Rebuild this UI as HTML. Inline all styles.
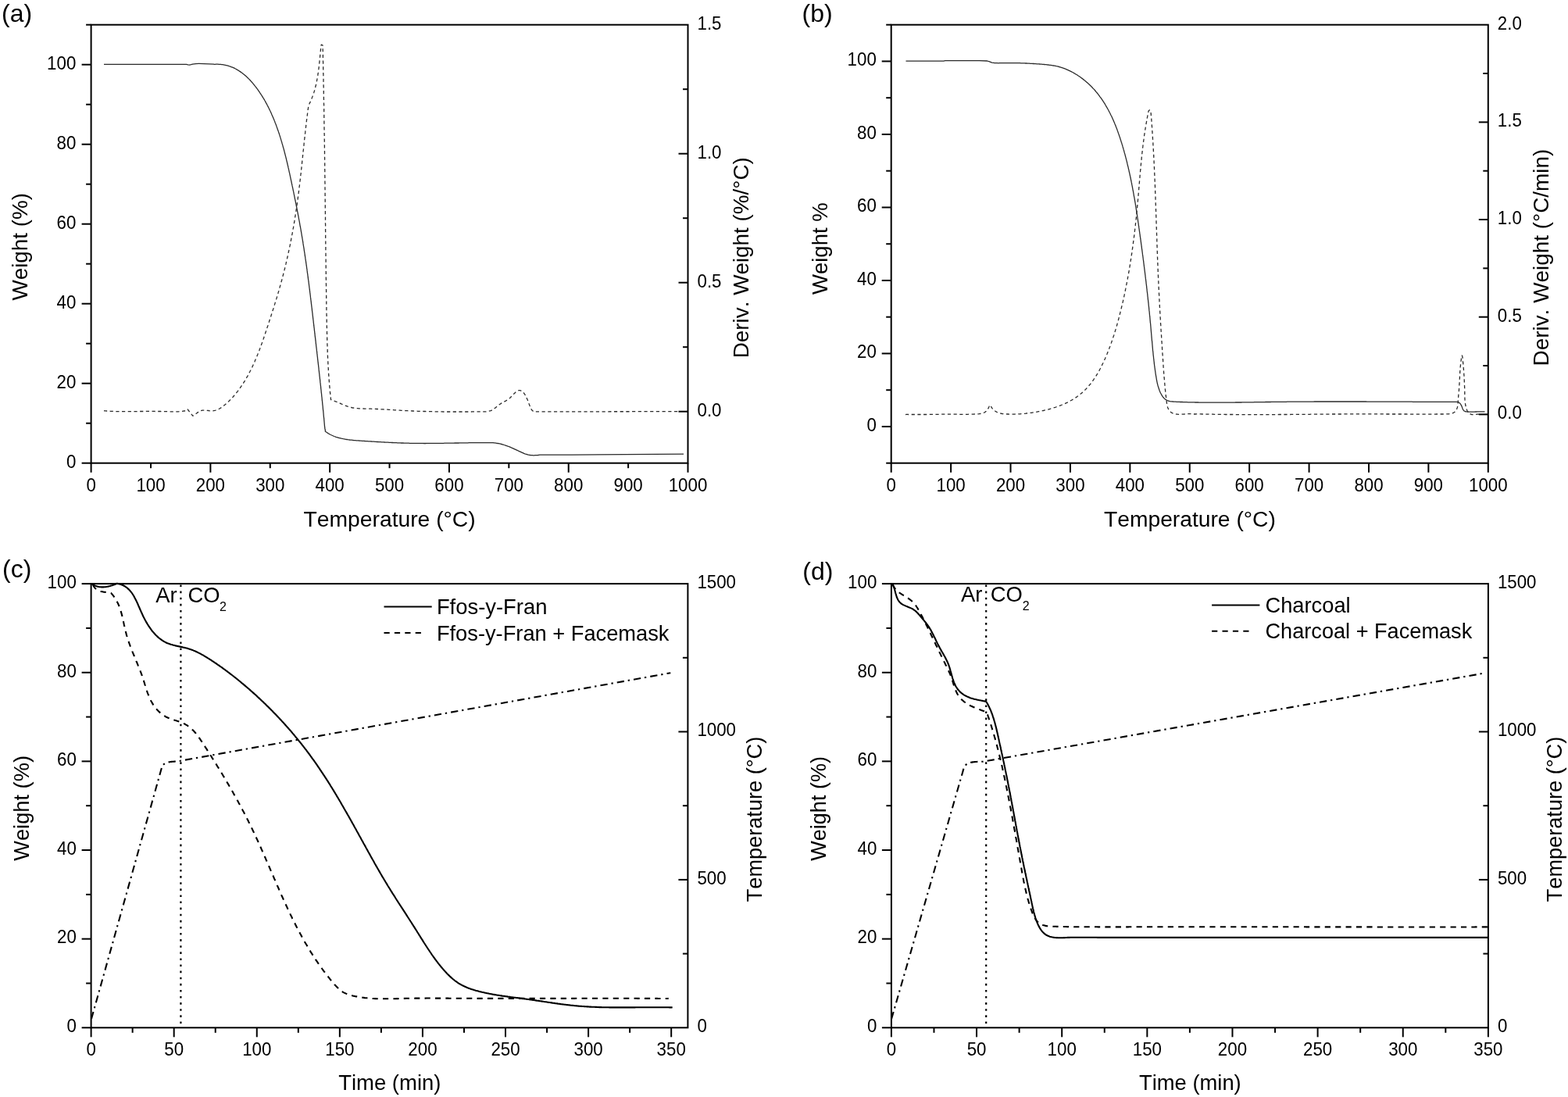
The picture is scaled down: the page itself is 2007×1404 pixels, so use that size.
<!DOCTYPE html>
<html><head><meta charset="utf-8"><title>TGA figure</title>
<style>html,body{margin:0;padding:0;background:#fff;}svg{display:block;}</style>
</head><body>
<svg xmlns="http://www.w3.org/2000/svg" width="2007" height="1404" viewBox="0 0 2007 1404" font-family="'Liberation Sans', Arial, sans-serif" fill="#000" style="font-kerning:none">
<rect width="2007" height="1404" fill="#fff"/>
<g stroke="#000" stroke-linecap="square" fill="none">
<rect x="116.6" y="31.7" width="763.9" height="561" stroke-width="2" stroke-linecap="butt"/>
<line x1="116.6" y1="592.7" x2="116.6" y2="604.7" stroke-width="2" stroke-linecap="butt"/>
<line x1="269.38" y1="592.7" x2="269.38" y2="604.7" stroke-width="2" stroke-linecap="butt"/>
<line x1="422.16" y1="592.7" x2="422.16" y2="604.7" stroke-width="2" stroke-linecap="butt"/>
<line x1="574.94" y1="592.7" x2="574.94" y2="604.7" stroke-width="2" stroke-linecap="butt"/>
<line x1="727.72" y1="592.7" x2="727.72" y2="604.7" stroke-width="2" stroke-linecap="butt"/>
<line x1="880.5" y1="592.7" x2="880.5" y2="604.7" stroke-width="2" stroke-linecap="butt"/>
<line x1="192.99" y1="592.7" x2="192.99" y2="599.2" stroke-width="2" stroke-linecap="butt"/>
<line x1="345.77" y1="592.7" x2="345.77" y2="599.2" stroke-width="2" stroke-linecap="butt"/>
<line x1="498.55" y1="592.7" x2="498.55" y2="599.2" stroke-width="2" stroke-linecap="butt"/>
<line x1="651.33" y1="592.7" x2="651.33" y2="599.2" stroke-width="2" stroke-linecap="butt"/>
<line x1="804.11" y1="592.7" x2="804.11" y2="599.2" stroke-width="2" stroke-linecap="butt"/>
<line x1="104.6" y1="592.7" x2="116.6" y2="592.7" stroke-width="2" stroke-linecap="butt"/>
<line x1="104.6" y1="490.7" x2="116.6" y2="490.7" stroke-width="2" stroke-linecap="butt"/>
<line x1="104.6" y1="388.7" x2="116.6" y2="388.7" stroke-width="2" stroke-linecap="butt"/>
<line x1="104.6" y1="286.7" x2="116.6" y2="286.7" stroke-width="2" stroke-linecap="butt"/>
<line x1="104.6" y1="184.7" x2="116.6" y2="184.7" stroke-width="2" stroke-linecap="butt"/>
<line x1="104.6" y1="82.7" x2="116.6" y2="82.7" stroke-width="2" stroke-linecap="butt"/>
<line x1="110.1" y1="541.7" x2="116.6" y2="541.7" stroke-width="2" stroke-linecap="butt"/>
<line x1="110.1" y1="439.7" x2="116.6" y2="439.7" stroke-width="2" stroke-linecap="butt"/>
<line x1="110.1" y1="337.7" x2="116.6" y2="337.7" stroke-width="2" stroke-linecap="butt"/>
<line x1="110.1" y1="235.7" x2="116.6" y2="235.7" stroke-width="2" stroke-linecap="butt"/>
<line x1="110.1" y1="133.7" x2="116.6" y2="133.7" stroke-width="2" stroke-linecap="butt"/>
<line x1="110.1" y1="31.7" x2="116.6" y2="31.7" stroke-width="2" stroke-linecap="butt"/>
<line x1="868.5" y1="526.7" x2="880.5" y2="526.7" stroke-width="2" stroke-linecap="butt"/>
<line x1="868.5" y1="361.7" x2="880.5" y2="361.7" stroke-width="2" stroke-linecap="butt"/>
<line x1="868.5" y1="196.7" x2="880.5" y2="196.7" stroke-width="2" stroke-linecap="butt"/>
<line x1="874" y1="444.2" x2="880.5" y2="444.2" stroke-width="2" stroke-linecap="butt"/>
<line x1="874" y1="279.2" x2="880.5" y2="279.2" stroke-width="2" stroke-linecap="butt"/>
<line x1="874" y1="114.2" x2="880.5" y2="114.2" stroke-width="2" stroke-linecap="butt"/>
</g>
<text transform="translate(116.6,629.3) scale(1,1.1)" font-size="22.3" text-anchor="middle">0</text>
<text transform="translate(192.99,629.3) scale(1,1.1)" font-size="22.3" text-anchor="middle">100</text>
<text transform="translate(269.38,629.3) scale(1,1.1)" font-size="22.3" text-anchor="middle">200</text>
<text transform="translate(345.77,629.3) scale(1,1.1)" font-size="22.3" text-anchor="middle">300</text>
<text transform="translate(422.16,629.3) scale(1,1.1)" font-size="22.3" text-anchor="middle">400</text>
<text transform="translate(498.55,629.3) scale(1,1.1)" font-size="22.3" text-anchor="middle">500</text>
<text transform="translate(574.94,629.3) scale(1,1.1)" font-size="22.3" text-anchor="middle">600</text>
<text transform="translate(651.33,629.3) scale(1,1.1)" font-size="22.3" text-anchor="middle">700</text>
<text transform="translate(727.72,629.3) scale(1,1.1)" font-size="22.3" text-anchor="middle">800</text>
<text transform="translate(804.11,629.3) scale(1,1.1)" font-size="22.3" text-anchor="middle">900</text>
<text transform="translate(880.5,629.3) scale(1,1.1)" font-size="22.3" text-anchor="middle">1000</text>
<text transform="translate(97.3,598.5) scale(1,1.1)" font-size="22.3" text-anchor="end">0</text>
<text transform="translate(97.3,496.5) scale(1,1.1)" font-size="22.3" text-anchor="end">20</text>
<text transform="translate(97.3,394.5) scale(1,1.1)" font-size="22.3" text-anchor="end">40</text>
<text transform="translate(97.3,292.5) scale(1,1.1)" font-size="22.3" text-anchor="end">60</text>
<text transform="translate(97.3,190.5) scale(1,1.1)" font-size="22.3" text-anchor="end">80</text>
<text transform="translate(97.3,88.5) scale(1,1.1)" font-size="22.3" text-anchor="end">100</text>
<text transform="translate(892.5,532.5) scale(1,1.1)" font-size="22.3" text-anchor="start">0.0</text>
<text transform="translate(892.5,367.5) scale(1,1.1)" font-size="22.3" text-anchor="start">0.5</text>
<text transform="translate(892.5,202.5) scale(1,1.1)" font-size="22.3" text-anchor="start">1.0</text>
<text transform="translate(892.5,37.5) scale(1,1.1)" font-size="22.3" text-anchor="start">1.5</text>
<text x="388.6" y="674" font-size="28.26" text-anchor="start">Temperature (°C)</text>
<text transform="translate(34.5,384.6) rotate(-90)" font-size="27.85">Weight (%)</text>
<text transform="translate(958,458.3) rotate(-90)" font-size="27.85">Deriv. Weight (%/°C)</text>
<text x="2" y="27.6" font-size="32" text-anchor="start">(a)</text>
<path d="M133.0,82.4 238.6,82.4 240.6,82.9 242.6,83.1 244.6,82.7 246.6,82.1 250.5,81.6 254.5,81.4 261.0,81.6 267.5,81.9 273.5,82.2 L273.5,82.2 274.1,82.3 275.3,82.3 276.5,82.2 277.7,82.2 278.9,82.2 280.1,82.3 281.3,82.3 282.5,82.4 283.7,82.6 284.9,82.7 286.1,82.9 287.2,83.1 288.4,83.3 289.6,83.6 290.8,83.9 291.9,84.2 293.1,84.6 294.2,84.9 295.3,85.4 296.5,85.8 297.6,86.2 298.7,86.7 299.8,87.2 300.8,87.7 301.9,88.3 303.0,88.9 304.0,89.5 305.0,90.1 306.0,90.7 307.0,91.4 308.0,92.1 309.0,92.8 310.0,93.5 310.9,94.2 311.9,95.0 312.8,95.7 313.7,96.5 314.6,97.3 315.5,98.1 316.4,98.9 317.2,99.7 318.1,100.6 318.9,101.4 319.8,102.3 320.6,103.2 321.4,104.1 322.2,105.0 323.0,105.9 323.8,106.8 324.5,107.7 325.3,108.6 326.0,109.6 326.8,110.5 327.5,111.5 328.2,112.4 329.0,113.4 329.7,114.3 330.4,115.3 331.1,116.3 331.8,117.3 332.4,118.3 333.1,119.3 333.8,120.3 334.4,121.3 335.1,122.3 335.7,123.3 336.3,124.3 336.9,125.4 337.6,126.4 338.2,127.4 338.8,128.5 339.4,129.5 340.0,130.6 340.5,131.6 341.1,132.7 341.7,133.7 342.2,134.8 342.8,135.8 343.3,136.9 343.9,138.0 344.4,139.1 344.9,140.1 345.4,141.2 346.0,142.3 346.5,143.4 347.0,144.5 347.5,145.6 347.9,146.7 348.4,147.8 348.9,148.9 349.4,150.0 349.8,151.1 350.3,152.2 350.8,153.3 351.2,154.4 351.7,155.5 352.1,156.7 352.5,157.8 353.0,158.9 353.4,160.0 353.8,161.1 354.2,162.3 354.6,163.4 355.0,164.5 355.4,165.7 355.8,166.8 356.2,167.9 356.6,169.1 357.0,170.2 357.4,171.3 357.7,172.5 358.1,173.6 358.5,174.8 358.8,175.9 359.2,177.1 359.5,178.2 359.9,179.4 360.2,180.5 360.6,181.7 360.9,182.8 361.2,184.0 361.6,185.1 361.9,186.3 362.2,187.4 362.5,188.6 362.9,189.7 363.2,190.9 363.5,192.0 363.8,193.2 364.1,194.4 364.4,195.5 364.7,196.7 365.0,197.9 365.3,199.0 365.6,200.2 365.9,201.3 366.2,202.5 366.5,203.7 366.7,204.8 367.0,206.0 367.3,207.2 367.6,208.3 367.8,209.5 368.1,210.7 368.4,211.9 368.7,213.0 368.9,214.2 369.2,215.4 369.5,216.5 369.7,217.7 370.0,218.9 370.2,220.1 370.5,221.2 370.8,222.4 371.0,223.6 371.3,224.7 371.5,225.9 371.8,227.1 372.0,228.3 372.3,229.4 372.5,230.6 372.8,231.8 373.0,233.0 373.3,234.1 373.5,235.3 373.8,236.5 374.0,237.7 374.3,238.8 374.5,240.0 374.8,241.2 375.0,242.3 375.3,243.5 375.5,244.7 375.8,245.9 376.0,247.0 376.2,248.2 376.5,249.4 376.7,250.6 377.0,251.8 377.2,252.9 377.4,254.1 377.7,255.3 377.9,256.5 378.2,257.6 378.4,258.8 378.6,260.0 378.9,261.2 379.1,262.3 379.3,263.5 379.6,264.7 379.8,265.9 380.0,267.1 380.3,268.2 380.5,269.4 380.7,270.6 381.0,271.8 381.2,272.9 381.4,274.1 381.6,275.3 381.9,276.5 382.1,277.7 382.3,278.8 382.5,280.0 382.7,281.2 383.0,282.4 383.2,283.6 383.4,284.7 383.6,285.9 383.8,287.1 384.0,288.3 384.2,289.5 384.5,290.6 384.7,291.8 384.9,293.0 385.1,294.2 385.3,295.4 385.5,296.6 385.7,297.7 385.9,298.9 386.1,300.1 386.3,301.3 386.5,302.5 386.7,303.7 386.9,304.8 387.1,306.0 387.3,307.2 387.5,308.4 387.7,309.6 387.9,310.8 388.0,311.9 388.2,313.1 388.4,314.3 388.6,315.5 388.8,316.7 389.0,317.9 389.2,319.1 389.3,320.2 389.5,321.4 389.7,322.6 389.9,323.8 390.1,325.0 390.2,326.2 390.4,327.4 390.6,328.6 390.8,329.7 390.9,330.9 391.1,332.1 391.3,333.3 391.5,334.5 391.6,335.7 391.8,336.9 392.0,338.1 392.1,339.2 392.3,340.4 392.5,341.6 392.6,342.8 392.8,344.0 393.0,345.2 393.1,346.4 393.3,347.6 393.4,348.8 393.6,350.0 393.8,351.1 393.9,352.3 394.1,353.5 394.2,354.7 394.4,355.9 394.5,357.1 394.7,358.3 394.9,359.5 395.0,360.7 395.2,361.9 395.3,363.0 395.5,364.2 395.6,365.4 395.8,366.6 395.9,367.8 396.1,369.0 396.2,370.2 396.4,371.4 396.5,372.6 396.7,373.8 396.8,374.9 397.0,376.1 397.1,377.3 397.3,378.5 397.4,379.7 397.5,380.9 397.7,382.1 397.8,383.3 398.0,384.5 398.1,385.7 398.3,386.9 398.4,388.1 398.5,389.2 398.7,390.4 398.8,391.6 399.0,392.8 399.1,394.0 399.3,395.2 399.4,396.4 399.5,397.6 399.7,398.8 399.8,400.0 400.0,401.2 400.1,402.4 400.2,403.6 400.4,404.7 400.5,405.9 400.6,407.1 400.8,408.3 400.9,409.5 401.1,410.7 401.2,411.9 401.3,413.1 401.5,414.3 401.6,415.5 401.7,416.7 401.9,417.9 402.0,419.1 402.2,420.2 402.3,421.4 402.4,422.6 402.6,423.8 402.7,425.0 402.8,426.2 403.0,427.4 403.1,428.6 403.2,429.8 403.4,431.0 403.5,432.2 403.7,433.4 403.8,434.6 403.9,435.7 404.1,436.9 404.2,438.1 404.3,439.3 404.5,440.5 404.6,441.7 404.7,442.9 404.9,444.1 405.0,445.3 405.2,446.5 405.3,447.7 405.4,448.9 405.6,450.1 405.7,451.2 405.8,452.4 406.0,453.6 406.1,454.8 406.2,456.0 406.4,457.2 406.5,458.4 406.6,459.6 406.8,460.8 406.9,462.0 407.0,463.2 407.2,464.4 407.3,465.6 407.5,466.8 407.6,467.9 407.7,469.1 407.9,470.3 408.0,471.5 408.1,472.7 408.2,473.9 408.4,475.1 408.5,476.3 408.6,477.5 408.8,478.7 408.9,479.9 409.0,481.1 409.2,482.3 409.3,483.5 409.4,484.6 409.6,485.8 409.7,487.0 409.8,488.2 409.9,489.4 410.1,490.6 410.2,491.8 410.3,493.0 410.5,494.2 410.6,495.4 410.7,496.6 410.8,497.8 411.0,499.0 411.1,500.2 411.2,501.4 411.3,502.6 411.5,503.7 411.6,504.9 411.7,506.1 411.8,507.3 412.0,508.5 412.1,509.7 412.2,510.9 412.3,512.1 412.5,513.3 412.6,514.5 412.7,515.7 412.8,516.9 412.9,518.1 413.1,519.3 413.2,520.5 413.3,521.7 413.4,522.8 413.5,524.0 413.6,525.2 413.8,526.4 413.9,527.6 414.0,528.8 414.1,530.0 414.2,531.2 414.3,532.4 414.4,533.6 414.6,534.8 414.7,536.0 414.8,537.2 414.9,538.4 415.0,539.6 415.1,540.8 415.2,542.0 415.3,543.2 415.4,544.4 415.5,545.6 415.7,546.7 415.8,547.9 415.9,549.1 416.4,550.3 L416.4,550.3 416.3,552.0 417.3,552.8 418.3,553.5 419.3,554.1 420.3,554.8 421.3,555.4 422.4,556.0 423.4,556.5 424.5,557.0 425.6,557.5 426.7,558.0 427.8,558.5 429.0,558.9 430.1,559.3 431.2,559.6 432.4,560.0 433.5,560.3 434.7,560.6 435.9,560.9 437.0,561.2 438.2,561.4 439.4,561.7 440.6,561.9 441.7,562.1 442.9,562.3 444.1,562.5 445.3,562.7 446.5,562.8 447.7,563.0 448.9,563.1 450.1,563.2 451.3,563.3 452.5,563.5 453.7,563.6 454.9,563.7 456.1,563.8 457.3,563.9 458.5,563.9 459.7,564.0 460.9,564.1 462.1,564.2 463.3,564.3 464.5,564.3 465.7,564.4 466.8,564.5 468.0,564.6 469.2,564.6 470.4,564.7 471.6,564.8 472.8,564.9 474.0,564.9 475.2,565.0 476.4,565.1 477.6,565.2 478.8,565.2 480.0,565.3 481.2,565.4 482.4,565.5 483.6,565.5 484.8,565.6 486.0,565.7 487.2,565.7 488.4,565.8 489.6,565.9 490.8,565.9 492.0,566.0 493.2,566.1 494.4,566.1 495.6,566.2 496.8,566.2 498.0,566.3 499.2,566.4 500.4,566.4 501.6,566.5 502.8,566.5 504.0,566.6 505.2,566.6 506.4,566.7 507.6,566.7 508.8,566.8 510.0,566.8 511.2,566.9 512.4,566.9 513.6,567.0 514.8,567.0 516.0,567.0 517.2,567.1 518.4,567.1 519.6,567.2 520.8,567.2 522.0,567.2 523.2,567.2 524.4,567.3 525.6,567.3 526.8,567.3 528.0,567.3 529.2,567.3 530.4,567.4 531.6,567.4 532.9,567.4 534.1,567.4 535.3,567.4 536.5,567.4 537.7,567.4 538.9,567.4 540.1,567.4 541.3,567.4 542.5,567.5 543.7,567.5 544.9,567.5 546.1,567.4 547.3,567.4 548.5,567.4 549.7,567.4 550.9,567.4 552.1,567.4 553.3,567.4 554.5,567.4 555.7,567.4 556.9,567.4 558.1,567.4 559.3,567.4 560.5,567.4 561.7,567.3 562.9,567.3 564.1,567.3 565.3,567.3 566.5,567.3 567.7,567.3 568.9,567.2 570.1,567.2 571.3,567.2 572.5,567.2 573.7,567.2 574.9,567.2 576.1,567.1 577.3,567.1 578.5,567.1 579.7,567.1 580.9,567.1 582.1,567.0 583.3,567.0 584.5,567.0 585.7,567.0 586.9,567.0 588.1,566.9 589.3,566.9 590.5,566.9 591.7,566.9 592.9,566.9 594.1,566.8 595.3,566.8 596.5,566.8 597.7,566.8 598.9,566.8 600.1,566.7 601.3,566.7 602.5,566.7 603.7,566.7 604.9,566.7 606.1,566.7 607.3,566.7 608.5,566.6 609.7,566.6 610.9,566.6 612.1,566.6 613.3,566.6 614.5,566.6 615.7,566.6 616.9,566.6 618.1,566.6 619.3,566.6 620.5,566.6 621.7,566.6 622.9,566.6 624.1,566.6 625.3,566.6 626.5,566.6 627.8,566.6 629.0,566.6 630.2,566.6 631.4,566.6 L631.4,566.6 632.5,566.8 633.7,566.9 634.9,567.1 636.1,567.3 637.3,567.5 638.5,567.7 639.6,567.9 640.8,568.2 642.0,568.5 643.1,568.8 644.3,569.1 645.4,569.5 646.6,569.9 647.7,570.3 648.8,570.7 650.0,571.1 651.1,571.5 652.2,571.9 653.3,572.4 654.4,572.9 655.5,573.3 656.6,573.8 657.7,574.3 658.8,574.8 659.9,575.3 661.0,575.8 662.1,576.3 663.2,576.9 664.2,577.4 665.3,577.9 666.4,578.4 667.5,578.9 668.6,579.4 669.7,579.9 670.8,580.4 671.9,580.8 673.1,581.2 674.2,581.5 675.4,581.8 676.5,582.1 677.7,582.3 678.9,582.5 680.1,582.6 681.3,582.7 682.5,582.8 683.7,582.8 684.9,582.7 686.1,582.7 687.3,582.6 688.5,582.5 689.7,582.3 690.9,582.2 692.0,582.2 L692.0,582.2 731.5,582.2 875.0,581.1" fill="none" stroke="#2a2a2a" stroke-width="1.3" stroke-linejoin="round"/>
<path d="M133.0,525.6 134.2,525.9 135.4,525.9 136.6,526.0 137.8,526.1 139.0,526.2 140.2,526.2 141.4,526.3 142.6,526.4 143.8,526.4 145.0,526.4 146.3,526.5 147.5,526.5 148.7,526.6 149.9,526.6 151.1,526.6 152.3,526.6 153.5,526.6 154.7,526.7 155.9,526.7 157.1,526.7 158.3,526.7 159.6,526.7 160.8,526.7 162.0,526.7 163.2,526.7 164.4,526.7 165.6,526.7 166.8,526.7 168.0,526.6 169.2,526.6 170.4,526.6 171.7,526.6 172.9,526.6 174.1,526.6 175.3,526.6 176.5,526.5 177.7,526.5 178.9,526.5 180.1,526.5 181.3,526.5 182.5,526.5 183.7,526.5 185.0,526.4 186.2,526.4 187.4,526.4 188.6,526.4 189.8,526.4 191.0,526.4 192.2,526.4 193.4,526.4 194.6,526.4 195.8,526.4 197.1,526.4 198.3,526.5 199.5,526.5 200.7,526.5 201.9,526.5 203.1,526.5 204.3,526.5 205.5,526.5 206.7,526.6 207.9,526.6 209.1,526.6 210.4,526.6 211.6,526.6 212.8,526.7 214.0,526.7 215.2,526.7 216.4,526.7 217.6,526.8 218.8,526.8 220.0,526.8 221.2,526.8 222.4,526.8 223.7,526.8 224.9,526.8 226.1,526.8 227.3,526.8 228.5,526.8 229.7,526.7 230.9,526.6 232.1,526.5 233.3,526.4 234.5,526.2 235.7,526.0 236.9,525.8 238.1,525.5 239.2,525.2 240.2,524.0 L240.2,524.0 243.8,528.7 246.9,532.3 L246.9,532.3 248.0,531.6 249.0,531.0 250.0,530.3 250.9,529.6 251.9,528.8 252.8,528.1 253.8,527.4 254.8,526.8 255.9,526.2 257.0,525.7 258.1,525.4 259.3,525.2 260.5,525.1 261.7,525.1 262.9,525.1 264.1,525.2 265.3,525.4 266.5,525.5 267.6,525.7 268.8,525.8 270.0,525.9 271.2,525.9 272.4,525.8 273.6,525.6 274.8,525.4 276.0,525.1 277.1,524.7 278.2,524.3 279.3,523.8 280.4,523.3 281.4,522.7 282.5,522.1 283.5,521.4 284.5,520.7 285.4,520.0 286.4,519.3 287.3,518.5 288.2,517.8 289.1,517.0 290.0,516.2 290.9,515.4 291.8,514.6 292.7,513.7 293.5,512.9 294.4,512.1 295.2,511.2 296.1,510.3 296.9,509.5 297.7,508.6 298.5,507.7 299.3,506.8 300.1,505.9 300.9,505.0 301.6,504.0 302.4,503.1 303.1,502.2 303.9,501.2 304.6,500.3 305.3,499.3 306.0,498.3 306.7,497.4 307.4,496.4 308.1,495.4 308.8,494.4 309.5,493.4 310.1,492.4 310.8,491.4 311.5,490.4 312.1,489.4 312.7,488.4 313.4,487.4 314.0,486.3 314.6,485.3 315.2,484.3 315.8,483.2 316.4,482.2 317.0,481.1 317.5,480.1 318.1,479.0 318.7,478.0 319.2,476.9 319.8,475.8 320.3,474.8 320.9,473.7 321.4,472.6 321.9,471.6 322.5,470.5 323.0,469.4 323.5,468.3 324.0,467.2 324.5,466.1 325.0,465.0 325.5,463.9 326.0,462.8 326.4,461.7 326.9,460.6 327.4,459.5 327.9,458.4 328.3,457.3 328.8,456.2 329.2,455.1 329.7,454.0 330.1,452.9 330.6,451.8 331.0,450.6 331.4,449.5 331.9,448.4 332.3,447.3 332.7,446.2 333.1,445.0 333.5,443.9 334.0,442.8 334.4,441.6 334.8,440.5 335.2,439.4 335.6,438.3 336.0,437.1 336.4,436.0 336.8,434.9 337.2,433.7 337.6,432.6 337.9,431.5 338.3,430.3 338.7,429.2 339.1,428.0 339.5,426.9 339.9,425.8 340.2,424.6 340.6,423.5 341.0,422.4 341.4,421.2 341.8,420.1 342.1,418.9 342.5,417.8 342.9,416.7 343.2,415.5 343.6,414.4 344.0,413.2 344.4,412.1 344.7,411.0 345.1,409.8 345.5,408.7 345.9,407.5 346.2,406.4 346.6,405.2 347.0,404.1 347.3,403.0 347.7,401.8 348.1,400.7 348.4,399.5 348.8,398.4 349.2,397.3 349.5,396.1 349.9,395.0 350.3,393.8 350.6,392.7 351.0,391.5 351.3,390.4 351.7,389.2 352.0,388.1 352.4,386.9 352.8,385.8 353.1,384.7 353.5,383.5 353.8,382.4 354.2,381.2 354.5,380.1 354.8,378.9 355.2,377.8 355.5,376.6 355.9,375.5 356.2,374.3 356.6,373.2 356.9,372.0 357.2,370.9 357.6,369.7 357.9,368.5 358.2,367.4 358.5,366.2 358.9,365.1 359.2,363.9 359.5,362.8 359.8,361.6 360.1,360.5 360.5,359.3 360.8,358.1 361.1,357.0 361.4,355.8 361.7,354.7 362.0,353.5 362.3,352.3 362.6,351.2 362.9,350.0 363.2,348.9 363.5,347.7 363.8,346.5 364.1,345.4 364.4,344.2 364.7,343.0 364.9,341.9 365.2,340.7 365.5,339.5 365.8,338.4 366.1,337.2 366.3,336.0 366.6,334.9 366.9,333.7 367.2,332.5 367.4,331.4 367.7,330.2 368.0,329.0 368.2,327.8 368.5,326.7 368.7,325.5 369.0,324.3 369.2,323.2 369.5,322.0 369.7,320.8 370.0,319.6 370.2,318.5 370.5,317.3 370.7,316.1 371.0,314.9 371.2,313.8 371.5,312.6 371.7,311.4 371.9,310.2 372.2,309.1 372.4,307.9 372.6,306.7 372.8,305.5 373.1,304.3 373.3,303.2 373.5,302.0 373.7,300.8 374.0,299.6 374.2,298.4 374.4,297.3 374.6,296.1 374.8,294.9 375.0,293.7 375.2,292.5 375.5,291.4 375.7,290.2 375.9,289.0 376.1,287.8 376.3,286.6 376.5,285.4 376.7,284.3 376.9,283.1 377.1,281.9 377.3,280.7 377.5,279.5 377.6,278.3 377.8,277.2 378.0,276.0 378.2,274.8 378.4,273.6 378.6,272.4 378.8,271.2 378.9,270.0 379.1,268.9 379.3,267.7 379.5,266.5 379.6,265.3 379.8,264.1 380.0,262.9 380.2,261.7 380.3,260.5 380.5,259.4 380.7,258.2 380.8,257.0 381.0,255.8 381.2,254.6 381.3,253.4 381.5,252.2 381.6,251.0 381.8,249.8 381.9,248.6 382.1,247.5 382.3,246.3 382.4,245.1 382.6,243.9 382.7,242.7 382.8,241.5 383.0,240.3 383.1,239.1 383.3,237.9 383.4,236.7 383.6,235.5 383.7,234.4 383.9,233.2 384.0,232.0 384.1,230.8 384.3,229.6 384.4,228.4 384.5,227.2 384.7,226.0 384.8,224.8 384.9,223.6 385.1,222.4 385.2,221.2 385.3,220.0 385.5,218.9 385.6,217.7 385.7,216.5 385.9,215.3 386.0,214.1 386.1,212.9 386.2,211.7 386.4,210.5 386.5,209.3 386.6,208.1 386.7,206.9 386.9,205.7 387.0,204.5 387.1,203.3 387.2,202.2 387.4,201.0 387.5,199.8 387.6,198.6 387.7,197.4 387.9,196.2 388.0,195.0 388.1,193.8 388.2,192.6 388.4,191.4 388.5,190.2 388.6,189.0 388.7,187.8 388.9,186.6 389.0,185.4 389.1,184.2 389.2,183.1 389.4,181.9 389.5,180.7 389.6,179.5 389.7,178.3 389.9,177.1 390.0,175.9 390.1,174.7 390.3,173.5 390.4,172.3 390.5,171.1 390.7,169.9 390.8,168.7 390.9,167.5 391.1,166.4 391.2,165.2 391.3,164.0 391.5,162.8 391.6,161.6 391.7,160.4 391.9,159.2 392.0,158.0 392.2,156.8 392.3,155.6 392.4,154.4 392.6,153.2 392.7,152.0 392.9,150.9 393.0,149.7 393.2,148.5 393.3,147.3 393.5,146.1 393.6,144.9 393.8,143.7 393.9,142.5 394.1,141.3 394.2,140.1 394.4,139.0 394.6,137.8 394.7,136.6 395.0,135.4 L395.0,135.4 395.2,134.3 395.8,133.2 396.3,132.1 396.8,131.1 397.4,130.0 397.8,128.9 398.3,127.8 398.8,126.7 399.2,125.5 399.7,124.4 400.1,123.3 400.5,122.2 400.9,121.0 401.3,119.9 401.7,118.7 402.0,117.6 402.4,116.5 402.7,115.3 403.0,114.1 403.3,113.0 403.7,111.8 403.9,110.7 404.2,109.5 404.5,108.3 404.8,107.1 405.0,106.0 405.3,104.8 405.5,103.6 405.7,102.4 405.9,101.3 406.2,100.1 406.4,98.9 406.6,97.7 406.8,96.5 406.9,95.3 407.1,94.1 407.3,92.9 407.4,91.8 407.6,90.6 407.8,89.4 407.9,88.2 408.1,87.0 408.2,85.8 408.3,84.6 408.5,83.4 408.6,82.2 408.7,81.0 408.9,79.8 409.0,78.6 409.1,77.4 409.2,76.2 409.3,75.0 409.5,73.8 409.6,72.7 409.7,71.5 409.8,70.3 409.9,69.1 410.0,67.9 410.2,66.7 410.3,65.5 410.4,64.3 410.5,63.1 410.6,61.9 410.8,60.7 410.9,59.5 411.0,58.3 411.3,57.1 L411.3,57.1 413.1,58.1 413.1,59.3 413.1,60.5 413.2,61.7 413.2,62.9 413.2,64.1 413.3,65.3 413.3,66.5 413.3,67.7 413.3,68.9 413.4,70.1 413.4,71.3 413.4,72.5 413.4,73.7 413.5,74.9 413.5,76.1 413.5,77.3 413.5,78.5 413.6,79.7 413.6,80.9 413.6,82.1 413.6,83.3 413.7,84.5 413.7,85.7 413.7,86.9 413.7,88.1 413.8,89.3 413.8,90.5 413.8,91.7 413.8,92.9 413.8,94.1 413.9,95.3 413.9,96.5 413.9,97.7 413.9,98.9 414.0,100.1 414.0,101.3 414.0,102.5 414.0,103.7 414.1,104.9 414.1,106.1 414.1,107.3 414.1,108.5 414.1,109.7 414.2,110.9 414.2,112.1 414.2,113.3 414.2,114.5 414.3,115.7 414.3,116.9 414.3,118.1 414.3,119.3 414.3,120.5 414.4,121.7 414.4,122.9 414.4,124.1 414.4,125.3 414.4,126.5 414.5,127.7 414.5,128.9 414.5,130.1 414.5,131.3 414.5,132.5 414.6,133.7 414.6,134.9 414.6,136.1 414.6,137.3 414.6,138.5 414.7,139.7 414.7,140.9 414.7,142.1 414.7,143.3 414.7,144.5 414.8,145.7 414.8,146.9 414.8,148.1 414.8,149.3 414.8,150.5 414.8,151.7 414.9,152.9 414.9,154.1 414.9,155.3 414.9,156.5 414.9,157.7 415.0,158.9 415.0,160.1 415.0,161.3 415.0,162.5 415.0,163.7 415.0,164.9 415.1,166.1 415.1,167.3 415.1,168.5 415.1,169.7 415.1,170.9 415.2,172.1 415.2,173.3 415.2,174.5 415.2,175.7 415.2,176.9 415.2,178.1 415.3,179.3 415.3,180.5 415.3,181.7 415.3,182.9 415.3,184.1 415.3,185.3 415.4,186.5 415.4,187.7 415.4,188.9 415.4,190.1 415.4,191.3 415.4,192.5 415.5,193.7 415.5,194.9 415.5,196.1 415.5,197.3 415.5,198.5 415.5,199.7 415.5,200.9 415.6,202.1 415.6,203.3 415.6,204.5 415.6,205.7 415.6,206.9 415.6,208.1 415.7,209.3 415.7,210.5 415.7,211.7 415.7,212.9 415.7,214.1 415.7,215.3 415.7,216.5 415.8,217.7 415.8,218.9 415.8,220.1 415.8,221.3 415.8,222.5 415.8,223.7 415.8,224.9 415.9,226.1 415.9,227.3 415.9,228.5 415.9,229.7 415.9,230.9 415.9,232.1 415.9,233.3 416.0,234.5 416.0,235.7 416.0,236.9 416.0,238.1 416.0,239.3 416.0,240.5 416.0,241.7 416.1,242.9 416.1,244.1 416.1,245.3 416.1,246.5 416.1,247.7 416.1,248.9 416.1,250.1 416.2,251.3 416.2,252.5 416.2,253.7 416.2,254.9 416.2,256.1 416.2,257.3 416.2,258.5 416.3,259.7 416.3,260.9 416.3,262.1 416.3,263.3 416.3,264.5 416.3,265.7 416.3,266.9 416.3,268.1 416.4,269.3 416.4,270.5 416.4,271.7 416.4,272.9 416.4,274.1 416.4,275.3 416.4,276.5 416.5,277.7 416.5,278.9 416.5,280.1 416.5,281.3 416.5,282.5 416.5,283.7 416.5,284.9 416.5,286.1 416.6,287.3 416.6,288.5 416.6,289.7 416.6,290.9 416.6,292.1 416.6,293.3 416.6,294.5 416.6,295.7 416.7,296.9 416.7,298.1 416.7,299.3 416.7,300.5 416.7,301.7 416.7,302.9 416.7,304.1 416.8,305.3 416.8,306.5 416.8,307.7 416.8,308.9 416.8,310.1 416.8,311.3 416.8,312.5 416.8,313.7 416.9,314.9 416.9,316.1 416.9,317.3 416.9,318.5 416.9,319.7 416.9,320.9 416.9,322.1 417.0,323.3 417.0,324.5 417.0,325.7 417.0,326.9 417.0,328.1 417.0,329.3 417.0,330.5 417.1,331.7 417.1,332.9 417.1,334.1 417.1,335.3 417.1,336.5 417.1,337.7 417.1,338.9 417.2,340.1 417.2,341.3 417.2,342.5 417.2,343.7 417.2,344.9 417.2,346.1 417.2,347.3 417.3,348.5 417.3,349.7 417.3,350.9 417.3,352.1 417.3,353.3 417.3,354.5 417.3,355.7 417.4,356.9 417.4,358.1 417.4,359.3 417.4,360.5 417.4,361.7 417.4,362.9 417.5,364.1 417.5,365.3 417.5,366.5 417.5,367.7 417.5,368.9 417.5,370.1 417.6,371.3 417.6,372.5 417.6,373.7 417.6,374.9 417.6,376.1 417.6,377.3 417.7,378.5 417.7,379.7 417.7,380.9 417.7,382.1 417.7,383.3 417.8,384.5 417.8,385.7 417.8,386.9 417.8,388.1 417.8,389.3 417.8,390.5 417.9,391.7 417.9,392.9 417.9,394.1 417.9,395.3 417.9,396.5 418.0,397.7 418.0,398.9 418.0,400.1 418.0,401.3 418.0,402.5 418.1,403.7 418.1,404.9 418.1,406.1 418.1,407.3 418.2,408.5 418.2,409.7 418.2,410.9 418.2,412.1 418.2,413.3 418.3,414.5 418.3,415.7 418.3,416.9 418.3,418.1 418.4,419.3 418.4,420.5 418.4,421.7 418.4,422.9 418.5,424.1 418.5,425.3 418.5,426.5 418.6,427.7 418.6,428.9 418.6,430.1 418.6,431.3 418.7,432.5 418.7,433.7 418.7,434.9 418.8,436.1 418.8,437.3 418.8,438.5 418.9,439.7 418.9,440.9 419.0,442.1 419.0,443.3 419.0,444.5 419.1,445.7 419.1,446.9 419.2,448.1 419.2,449.3 419.2,450.5 419.3,451.7 419.3,452.9 419.4,454.1 419.4,455.3 419.5,456.5 419.5,457.7 419.6,458.9 419.6,460.1 419.7,461.3 419.8,462.5 419.8,463.7 419.9,464.9 419.9,466.0 420.0,467.2 420.1,468.4 420.1,469.6 420.2,470.8 420.3,472.0 420.3,473.2 420.4,474.4 420.5,475.6 420.6,476.8 420.6,478.0 420.7,479.2 420.8,480.4 420.9,481.6 421.0,482.8 421.0,484.0 421.1,485.2 421.2,486.4 421.3,487.6 421.4,488.8 421.5,490.0 421.6,491.2 421.7,492.4 421.8,493.6 421.9,494.8 422.0,496.0 422.1,497.2 422.2,498.4 422.3,499.6 422.4,500.8 422.5,502.0 422.6,503.2 422.8,504.3 422.9,505.5 423.0,506.7 423.1,507.9 423.3,509.1 423.4,510.3 423.5,511.5 424.9,512.5 L424.9,512.5 426.1,512.6 427.3,512.9 428.4,513.3 429.5,513.8 430.6,514.2 431.8,514.7 432.9,515.1 434.0,515.6 435.1,516.1 436.2,516.6 437.3,517.1 438.4,517.5 439.5,518.0 440.6,518.5 441.7,519.0 442.8,519.4 443.9,519.8 445.0,520.2 446.2,520.6 447.3,520.9 448.5,521.2 449.7,521.5 450.8,521.8 452.0,522.0 453.2,522.2 454.4,522.3 455.6,522.5 456.8,522.6 458.0,522.7 459.2,522.8 460.4,522.9 461.6,522.9 462.8,523.0 464.0,523.0 465.2,523.0 466.4,523.1 467.6,523.1 468.8,523.1 470.0,523.1 471.2,523.1 472.4,523.2 473.6,523.2 474.8,523.2 476.0,523.3 477.2,523.3 478.4,523.4 479.6,523.4 480.8,523.4 482.0,523.5 483.2,523.5 484.4,523.6 485.6,523.7 486.8,523.7 488.0,523.8 489.2,523.8 490.4,523.9 491.6,524.0 492.8,524.0 494.0,524.1 495.2,524.2 496.4,524.2 497.6,524.3 498.8,524.4 500.0,524.5 501.2,524.5 502.4,524.6 503.6,524.7 504.8,524.8 506.0,524.8 507.2,524.9 508.4,525.0 509.6,525.0 510.8,525.1 512.0,525.2 513.2,525.3 514.4,525.3 515.6,525.4 516.8,525.5 518.0,525.5 519.2,525.6 520.4,525.6 521.6,525.7 522.8,525.8 524.0,525.8 525.2,525.9 526.4,525.9 527.6,526.0 528.8,526.0 530.0,526.1 531.2,526.1 532.4,526.2 533.6,526.2 534.8,526.3 536.0,526.3 537.2,526.3 538.4,526.4 539.6,526.4 540.8,526.4 542.0,526.5 543.2,526.5 544.4,526.5 545.6,526.6 546.8,526.6 548.0,526.6 549.2,526.7 550.4,526.7 551.6,526.7 552.8,526.7 554.0,526.8 555.2,526.8 556.4,526.8 557.6,526.8 558.8,526.9 560.0,526.9 561.2,526.9 562.4,526.9 563.6,526.9 564.8,526.9 566.0,526.9 567.2,527.0 568.4,527.0 569.6,527.0 570.8,527.0 572.0,527.0 573.2,527.0 574.4,527.0 575.6,527.0 576.8,527.0 578.0,527.0 579.2,527.0 580.4,527.0 581.6,527.0 582.8,527.0 584.0,527.0 585.2,527.0 586.4,527.0 587.6,527.0 588.8,527.0 590.0,527.0 591.2,527.0 592.4,527.0 593.6,527.0 594.8,527.0 596.0,527.0 597.2,527.0 598.4,527.0 599.6,527.0 600.8,527.0 602.0,527.0 603.2,527.0 604.4,526.9 605.6,526.9 606.8,526.9 608.0,526.9 609.2,526.9 610.4,526.9 611.6,526.9 612.8,526.9 614.0,526.8 615.2,526.8 616.4,526.8 617.6,526.8 618.8,526.8 620.0,526.8 621.2,526.8 622.4,526.9 L622.4,526.9 623.6,526.7 624.7,526.5 625.9,526.2 627.1,525.9 628.2,525.6 629.3,525.1 630.4,524.5 631.4,523.9 632.4,523.2 633.3,522.4 634.3,521.7 635.2,520.9 636.1,520.2 637.1,519.4 638.0,518.7 639.0,517.9 640.0,517.2 641.0,516.6 642.0,515.9 643.0,515.3 644.1,514.8 645.2,514.2 646.2,513.7 647.3,513.1 648.3,512.5 649.4,511.9 650.4,511.2 651.3,510.5 652.3,509.7 653.1,508.9 654.0,508.1 654.8,507.2 655.7,506.4 656.5,505.5 657.3,504.6 658.1,503.7 659.0,502.9 659.9,502.1 660.8,501.3 661.8,500.6 662.9,500.1 664.0,499.7 665.2,499.7 666.4,499.9 667.5,500.4 668.5,501.0 669.4,501.8 670.2,502.7 671.0,503.6 671.6,504.6 672.3,505.7 672.8,506.7 673.4,507.8 673.9,508.9 674.4,510.0 674.9,511.1 675.4,512.2 675.8,513.3 676.3,514.4 676.7,515.5 677.1,516.7 677.5,517.8 677.9,518.9 678.4,520.0 678.8,521.2 679.3,522.3 679.8,523.3 680.5,524.3 681.2,525.3 682.1,526.1 683.0,526.9 L683.0,526.9 720.0,526.9 868.3,526.6" fill="none" stroke="#2a2a2a" stroke-width="1.3" stroke-linejoin="round" stroke-dasharray="4.2 3.5"/>
<g stroke="#000" stroke-linecap="square" fill="none">
<rect x="1140.7" y="31.7" width="764.1" height="561" stroke-width="2" stroke-linecap="butt"/>
<line x1="1140.7" y1="592.7" x2="1140.7" y2="604.7" stroke-width="2" stroke-linecap="butt"/>
<line x1="1217.11" y1="592.7" x2="1217.11" y2="604.7" stroke-width="2" stroke-linecap="butt"/>
<line x1="1293.52" y1="592.7" x2="1293.52" y2="604.7" stroke-width="2" stroke-linecap="butt"/>
<line x1="1369.93" y1="592.7" x2="1369.93" y2="604.7" stroke-width="2" stroke-linecap="butt"/>
<line x1="1446.34" y1="592.7" x2="1446.34" y2="604.7" stroke-width="2" stroke-linecap="butt"/>
<line x1="1522.75" y1="592.7" x2="1522.75" y2="604.7" stroke-width="2" stroke-linecap="butt"/>
<line x1="1599.16" y1="592.7" x2="1599.16" y2="604.7" stroke-width="2" stroke-linecap="butt"/>
<line x1="1675.57" y1="592.7" x2="1675.57" y2="604.7" stroke-width="2" stroke-linecap="butt"/>
<line x1="1751.98" y1="592.7" x2="1751.98" y2="604.7" stroke-width="2" stroke-linecap="butt"/>
<line x1="1828.39" y1="592.7" x2="1828.39" y2="604.7" stroke-width="2" stroke-linecap="butt"/>
<line x1="1904.8" y1="592.7" x2="1904.8" y2="604.7" stroke-width="2" stroke-linecap="butt"/>
<line x1="1128.7" y1="545.95" x2="1140.7" y2="545.95" stroke-width="2" stroke-linecap="butt"/>
<line x1="1128.7" y1="452.45" x2="1140.7" y2="452.45" stroke-width="2" stroke-linecap="butt"/>
<line x1="1128.7" y1="358.95" x2="1140.7" y2="358.95" stroke-width="2" stroke-linecap="butt"/>
<line x1="1128.7" y1="265.45" x2="1140.7" y2="265.45" stroke-width="2" stroke-linecap="butt"/>
<line x1="1128.7" y1="171.95" x2="1140.7" y2="171.95" stroke-width="2" stroke-linecap="butt"/>
<line x1="1128.7" y1="78.45" x2="1140.7" y2="78.45" stroke-width="2" stroke-linecap="butt"/>
<line x1="1134.2" y1="592.7" x2="1140.7" y2="592.7" stroke-width="2" stroke-linecap="butt"/>
<line x1="1134.2" y1="499.2" x2="1140.7" y2="499.2" stroke-width="2" stroke-linecap="butt"/>
<line x1="1134.2" y1="405.7" x2="1140.7" y2="405.7" stroke-width="2" stroke-linecap="butt"/>
<line x1="1134.2" y1="312.2" x2="1140.7" y2="312.2" stroke-width="2" stroke-linecap="butt"/>
<line x1="1134.2" y1="218.7" x2="1140.7" y2="218.7" stroke-width="2" stroke-linecap="butt"/>
<line x1="1134.2" y1="125.2" x2="1140.7" y2="125.2" stroke-width="2" stroke-linecap="butt"/>
<line x1="1134.2" y1="31.7" x2="1140.7" y2="31.7" stroke-width="2" stroke-linecap="butt"/>
<line x1="1892.8" y1="530.37" x2="1904.8" y2="530.37" stroke-width="2" stroke-linecap="butt"/>
<line x1="1892.8" y1="405.7" x2="1904.8" y2="405.7" stroke-width="2" stroke-linecap="butt"/>
<line x1="1892.8" y1="281.03" x2="1904.8" y2="281.03" stroke-width="2" stroke-linecap="butt"/>
<line x1="1892.8" y1="156.37" x2="1904.8" y2="156.37" stroke-width="2" stroke-linecap="butt"/>
<line x1="1898.3" y1="468.03" x2="1904.8" y2="468.03" stroke-width="2" stroke-linecap="butt"/>
<line x1="1898.3" y1="343.37" x2="1904.8" y2="343.37" stroke-width="2" stroke-linecap="butt"/>
<line x1="1898.3" y1="218.7" x2="1904.8" y2="218.7" stroke-width="2" stroke-linecap="butt"/>
<line x1="1898.3" y1="94.03" x2="1904.8" y2="94.03" stroke-width="2" stroke-linecap="butt"/>
</g>
<text transform="translate(1140.7,629.3) scale(1,1.1)" font-size="22.3" text-anchor="middle">0</text>
<text transform="translate(1217.11,629.3) scale(1,1.1)" font-size="22.3" text-anchor="middle">100</text>
<text transform="translate(1293.52,629.3) scale(1,1.1)" font-size="22.3" text-anchor="middle">200</text>
<text transform="translate(1369.93,629.3) scale(1,1.1)" font-size="22.3" text-anchor="middle">300</text>
<text transform="translate(1446.34,629.3) scale(1,1.1)" font-size="22.3" text-anchor="middle">400</text>
<text transform="translate(1522.75,629.3) scale(1,1.1)" font-size="22.3" text-anchor="middle">500</text>
<text transform="translate(1599.16,629.3) scale(1,1.1)" font-size="22.3" text-anchor="middle">600</text>
<text transform="translate(1675.57,629.3) scale(1,1.1)" font-size="22.3" text-anchor="middle">700</text>
<text transform="translate(1751.98,629.3) scale(1,1.1)" font-size="22.3" text-anchor="middle">800</text>
<text transform="translate(1828.39,629.3) scale(1,1.1)" font-size="22.3" text-anchor="middle">900</text>
<text transform="translate(1904.8,629.3) scale(1,1.1)" font-size="22.3" text-anchor="middle">1000</text>
<text transform="translate(1121.8,551.75) scale(1,1.1)" font-size="22.3" text-anchor="end">0</text>
<text transform="translate(1121.8,458.25) scale(1,1.1)" font-size="22.3" text-anchor="end">20</text>
<text transform="translate(1121.8,364.75) scale(1,1.1)" font-size="22.3" text-anchor="end">40</text>
<text transform="translate(1121.8,271.25) scale(1,1.1)" font-size="22.3" text-anchor="end">60</text>
<text transform="translate(1121.8,177.75) scale(1,1.1)" font-size="22.3" text-anchor="end">80</text>
<text transform="translate(1121.8,84.25) scale(1,1.1)" font-size="22.3" text-anchor="end">100</text>
<text transform="translate(1916.8,536.17) scale(1,1.1)" font-size="22.3" text-anchor="start">0.0</text>
<text transform="translate(1916.8,411.5) scale(1,1.1)" font-size="22.3" text-anchor="start">0.5</text>
<text transform="translate(1916.8,286.83) scale(1,1.1)" font-size="22.3" text-anchor="start">1.0</text>
<text transform="translate(1916.8,162.17) scale(1,1.1)" font-size="22.3" text-anchor="start">1.5</text>
<text transform="translate(1916.8,37.5) scale(1,1.1)" font-size="22.3" text-anchor="start">2.0</text>
<text x="1413" y="674.1" font-size="28.22" text-anchor="start">Temperature (°C)</text>
<text transform="translate(1058.9,377.1) rotate(-90)" font-size="27.57">Weight %</text>
<text transform="translate(1982.2,468.5) rotate(-90)" font-size="27.91">Deriv. Weight (°C/min)</text>
<text x="1026.6" y="28.3" font-size="32" text-anchor="start">(b)</text>
<path d="M1159.5,78.2 1207.8,78.2 1209.8,77.7 1253.6,77.7 1263.6,78.0 1266.5,78.9 1269.6,80.1 1273.0,80.6 1276.6,80.7 L1276.6,80.7 1277.9,80.8 1279.1,80.7 1280.3,80.7 1281.5,80.7 1282.7,80.6 1283.9,80.6 1285.1,80.6 1286.3,80.6 1287.5,80.6 1288.7,80.6 1289.9,80.6 1291.1,80.6 1292.3,80.6 1293.5,80.6 1294.7,80.6 1295.9,80.6 1297.1,80.6 1298.3,80.6 1299.5,80.6 1300.7,80.6 1301.9,80.7 1303.1,80.7 1304.3,80.7 1305.5,80.7 1306.7,80.8 1307.9,80.8 1309.1,80.9 1310.3,80.9 1311.5,80.9 1312.7,81.0 1313.9,81.0 1315.1,81.1 1316.3,81.2 1317.5,81.2 1318.7,81.3 1319.9,81.3 1321.1,81.4 1322.3,81.5 1323.5,81.5 1324.7,81.6 1325.9,81.7 1327.1,81.8 1328.3,81.9 1329.5,81.9 1330.7,82.0 1331.9,82.1 1333.1,82.2 1334.3,82.3 1335.4,82.4 1336.6,82.5 1337.8,82.6 1339.0,82.7 1340.2,82.9 1341.4,83.0 1342.6,83.1 1343.8,83.3 1345.0,83.4 1346.2,83.6 1347.4,83.8 1348.6,84.0 1349.7,84.2 1350.9,84.4 1352.1,84.7 1353.3,84.9 1354.4,85.2 1355.6,85.5 1356.7,85.8 1357.9,86.2 1359.0,86.5 1360.2,86.9 1361.3,87.3 1362.4,87.7 1363.6,88.2 1364.7,88.6 1365.8,89.1 1366.9,89.6 1368.0,90.1 1369.1,90.6 1370.1,91.1 1371.2,91.6 1372.3,92.2 1373.3,92.8 1374.4,93.4 1375.4,94.0 1376.4,94.6 1377.5,95.2 1378.5,95.8 1379.5,96.5 1380.5,97.2 1381.5,97.8 1382.5,98.5 1383.5,99.2 1384.4,99.9 1385.4,100.6 1386.3,101.4 1387.3,102.1 1388.2,102.9 1389.1,103.6 1390.1,104.4 1391.0,105.2 1391.9,106.0 1392.8,106.8 1393.6,107.6 1394.5,108.4 1395.4,109.2 1396.2,110.1 1397.1,110.9 1397.9,111.8 1398.7,112.7 1399.6,113.6 1400.4,114.4 1401.2,115.3 1402.0,116.2 1402.7,117.2 1403.5,118.1 1404.3,119.0 1405.0,119.9 1405.8,120.9 1406.5,121.8 1407.2,122.8 1407.9,123.8 1408.6,124.7 1409.3,125.7 1410.0,126.7 1410.7,127.7 1411.4,128.7 1412.0,129.7 1412.7,130.7 1413.3,131.7 1414.0,132.7 1414.6,133.7 1415.2,134.8 1415.8,135.8 1416.4,136.8 1417.0,137.9 1417.6,138.9 1418.2,140.0 1418.8,141.0 1419.3,142.1 1419.9,143.2 1420.4,144.2 1421.0,145.3 1421.5,146.4 1422.0,147.5 1422.6,148.5 1423.1,149.6 1423.6,150.7 1424.1,151.8 1424.6,152.9 1425.1,154.0 1425.5,155.1 1426.0,156.2 1426.5,157.3 1426.9,158.4 1427.4,159.5 1427.8,160.6 1428.3,161.8 1428.7,162.9 1429.2,164.0 1429.6,165.1 1430.0,166.2 1430.4,167.4 1430.8,168.5 1431.2,169.6 1431.6,170.8 1432.0,171.9 1432.4,173.0 1432.8,174.2 1433.2,175.3 1433.6,176.4 1433.9,177.6 1434.3,178.7 1434.7,179.9 1435.0,181.0 1435.4,182.2 1435.8,183.3 1436.1,184.5 1436.5,185.6 1436.8,186.7 1437.1,187.9 1437.5,189.1 1437.8,190.2 1438.1,191.4 1438.5,192.5 1438.8,193.7 1439.1,194.8 1439.4,196.0 1439.8,197.1 1440.1,198.3 1440.4,199.5 1440.7,200.6 1441.0,201.8 1441.3,202.9 1441.6,204.1 1441.9,205.3 1442.2,206.4 1442.5,207.6 1442.8,208.8 1443.0,209.9 1443.3,211.1 1443.6,212.3 1443.9,213.4 1444.2,214.6 1444.4,215.8 1444.7,216.9 1445.0,218.1 1445.2,219.3 1445.5,220.5 1445.8,221.6 1446.0,222.8 1446.3,224.0 1446.5,225.1 1446.8,226.3 1447.0,227.5 1447.3,228.7 1447.5,229.8 1447.7,231.0 1448.0,232.2 1448.2,233.4 1448.5,234.6 1448.7,235.7 1448.9,236.9 1449.2,238.1 1449.4,239.3 1449.6,240.4 1449.8,241.6 1450.0,242.8 1450.3,244.0 1450.5,245.2 1450.7,246.3 1450.9,247.5 1451.1,248.7 1451.3,249.9 1451.5,251.1 1451.8,252.3 1452.0,253.4 1452.2,254.6 1452.4,255.8 1452.6,257.0 1452.8,258.2 1453.0,259.4 1453.2,260.5 1453.4,261.7 1453.5,262.9 1453.7,264.1 1453.9,265.3 1454.1,266.5 1454.3,267.7 1454.5,268.8 1454.7,270.0 1454.9,271.2 1455.0,272.4 1455.2,273.6 1455.4,274.8 1455.6,276.0 1455.8,277.1 1455.9,278.3 1456.1,279.5 1456.3,280.7 1456.5,281.9 1456.6,283.1 1456.8,284.3 1457.0,285.5 1457.2,286.7 1457.3,287.8 1457.5,289.0 1457.7,290.2 1457.8,291.4 1458.0,292.6 1458.2,293.8 1458.3,295.0 1458.5,296.2 1458.7,297.3 1458.8,298.5 1459.0,299.7 1459.2,300.9 1459.3,302.1 1459.5,303.3 1459.7,304.5 1459.8,305.7 1460.0,306.9 1460.2,308.1 1460.3,309.2 1460.5,310.4 1460.6,311.6 1460.8,312.8 1461.0,314.0 1461.1,315.2 1461.3,316.4 1461.4,317.6 1461.6,318.8 1461.8,320.0 1461.9,321.1 1462.1,322.3 1462.2,323.5 1462.4,324.7 1462.5,325.9 1462.7,327.1 1462.9,328.3 1463.0,329.5 1463.2,330.7 1463.3,331.9 1463.5,333.0 1463.6,334.2 1463.8,335.4 1463.9,336.6 1464.1,337.8 1464.2,339.0 1464.4,340.2 1464.5,341.4 1464.7,342.6 1464.8,343.8 1465.0,345.0 1465.1,346.1 1465.3,347.3 1465.4,348.5 1465.6,349.7 1465.7,350.9 1465.9,352.1 1466.0,353.3 1466.1,354.5 1466.3,355.7 1466.4,356.9 1466.6,358.1 1466.7,359.3 1466.9,360.4 1467.0,361.6 1467.1,362.8 1467.3,364.0 1467.4,365.2 1467.6,366.4 1467.7,367.6 1467.8,368.8 1468.0,370.0 1468.1,371.2 1468.2,372.4 1468.4,373.6 1468.5,374.8 1468.7,376.0 1468.8,377.1 1468.9,378.3 1469.0,379.5 1469.2,380.7 1469.3,381.9 1469.4,383.1 1469.6,384.3 1469.7,385.5 1469.8,386.7 1470.0,387.9 1470.1,389.1 1470.2,390.3 1470.3,391.5 1470.5,392.7 1470.6,393.9 1470.7,395.1 1470.8,396.2 1470.9,397.4 1471.1,398.6 1471.2,399.8 1471.3,401.0 1471.4,402.2 1471.5,403.4 1471.7,404.6 1471.8,405.8 1471.9,407.0 1472.0,408.2 1472.1,409.4 1472.2,410.6 1472.3,411.8 1472.4,413.0 1472.6,414.2 1472.7,415.4 1472.8,416.6 1472.9,417.8 1473.0,419.0 1473.1,420.2 1473.2,421.3 1473.3,422.5 1473.4,423.7 1473.5,424.9 1473.6,426.1 1473.7,427.3 1473.8,428.5 1473.9,429.7 1474.0,430.9 1474.1,432.1 1474.2,433.3 1474.3,434.5 1474.4,435.7 1474.6,436.9 1474.7,438.1 1474.8,439.3 1474.9,440.5 1475.0,441.7 1475.1,442.9 1475.2,444.1 1475.3,445.3 1475.4,446.5 1475.5,447.7 1475.6,448.9 1475.8,450.0 1475.9,451.2 1476.0,452.4 1476.1,453.6 1476.2,454.8 1476.4,456.0 1476.5,457.2 1476.6,458.4 1476.8,459.6 1476.9,460.8 1477.0,462.0 1477.2,463.2 1477.3,464.4 1477.4,465.6 1477.6,466.8 1477.7,467.9 1477.9,469.1 1478.0,470.3 1478.2,471.5 1478.4,472.7 1478.5,473.9 1478.7,475.1 1478.9,476.3 1479.0,477.5 1479.2,478.6 1479.4,479.8 1479.6,481.0 1479.8,482.2 1480.0,483.4 1480.2,484.6 1480.4,485.8 1480.6,486.9 1480.8,488.1 1481.1,489.3 1481.3,490.5 1481.6,491.6 1481.9,492.8 1482.2,494.0 1482.6,495.1 1482.9,496.3 1483.3,497.4 1483.7,498.5 1484.1,499.7 1484.5,500.8 1485.0,501.9 1485.5,503.0 1486.1,504.0 1486.6,505.1 1487.3,506.1 1487.9,507.1 1488.6,508.1 1489.4,509.0 1490.2,509.9 1491.1,510.7 1492.1,511.4 1493.1,512.0 1494.2,512.6 1495.3,513.0 1496.4,513.3 1497.6,513.6 1498.8,513.8 1500.0,513.9 1501.2,514.0 1502.4,514.1 1503.6,514.2 1504.8,514.2 1506.0,514.3 1507.2,514.3 1508.4,514.4 1509.6,514.4 1510.8,514.5 1512.0,514.5 1513.2,514.5 1514.4,514.6 1515.6,514.6 1516.8,514.7 1518.0,514.7 1519.2,514.7 1520.4,514.8 1521.6,514.8 1522.8,514.8 1524.0,514.8 1525.2,514.9 1526.4,514.9 1527.6,514.9 1528.8,514.9 1530.0,515.0 1531.2,515.0 1532.4,515.0 1533.6,515.0 1534.8,515.1 1536.0,515.1 1537.2,515.1 1538.4,515.1 1539.6,515.1 1540.8,515.1 1542.0,515.1 1543.2,515.1 1544.4,515.2 1545.6,515.2 1546.8,515.2 1548.0,515.2 1549.2,515.2 1550.4,515.2 1551.6,515.2 1552.8,515.2 1554.0,515.2 1555.2,515.2 1556.4,515.2 1557.6,515.2 1558.8,515.2 1560.0,515.2 1561.2,515.2 1562.4,515.2 1563.6,515.2 1564.8,515.2 1566.0,515.2 1567.2,515.2 1568.4,515.2 1569.6,515.1 1570.8,515.1 1572.0,515.1 1573.2,515.1 1574.4,515.1 1575.6,515.1 1576.8,515.1 1578.0,515.1 1579.2,515.1 1580.4,515.1 1581.6,515.0 1582.8,515.0 1584.0,515.0 1585.2,515.0 1586.4,515.0 1587.6,515.0 1588.8,515.0 1590.0,514.9 1591.2,514.9 1592.4,514.9 1593.6,514.9 1594.8,514.9 1596.0,514.9 1597.2,514.9 1598.4,514.8 1599.6,514.8 1600.8,514.8 1602.0,514.8 1603.2,514.8 1604.4,514.8 1605.6,514.7 1606.8,514.7 1608.0,514.7 1609.2,514.7 1610.4,514.7 1611.6,514.7 1612.8,514.6 1614.0,514.6 1615.2,514.6 1616.4,514.6 1617.6,514.6 1618.8,514.6 1620.0,514.5 1621.2,514.5 1622.4,514.5 1623.6,514.5 1624.8,514.5 1626.0,514.5 1627.2,514.4 1628.4,514.4 1629.6,514.4 1630.8,514.4 1632.0,514.4 1633.2,514.4 1634.4,514.4 1635.6,514.4 1636.8,514.3 1638.0,514.3 1639.2,514.3 1640.4,514.3 1641.6,514.3 1642.8,514.3 1644.0,514.3 1645.2,514.3 1646.4,514.3 1647.6,514.2 1648.8,514.2 1650.0,514.2 1651.2,514.2 1652.4,514.2 1653.6,514.2 1654.8,514.2 1656.0,514.2 1657.2,514.2 1658.4,514.2 1659.6,514.2 1660.8,514.1 1662.0,514.1 1663.2,514.1 1664.4,514.1 1665.6,514.1 1666.8,514.1 1668.0,514.1 1669.2,514.1 1670.4,514.1 1671.6,514.1 1672.8,514.1 1674.0,514.1 1675.2,514.1 1676.4,514.1 1677.6,514.1 1678.8,514.1 1680.0,514.1 1681.2,514.1 1682.4,514.0 1683.6,514.0 1684.8,514.0 1686.0,514.0 1687.2,514.0 1688.4,514.0 1689.6,514.0 1690.8,514.0 1692.1,514.0 1693.3,514.0 1694.5,514.0 1695.7,514.0 1696.9,514.0 1698.1,514.0 1699.3,514.0 1700.5,514.0 1701.7,514.0 1702.9,514.0 1704.1,514.0 1705.3,514.0 1706.5,514.0 1707.7,514.0 1708.9,514.0 1710.1,514.0 1711.3,514.0 1712.5,514.0 1713.7,514.0 1714.9,514.0 1716.1,514.0 1717.3,514.0 1718.5,514.0 1719.7,514.0 1720.9,514.0 1722.1,514.0 1723.3,514.0 1724.5,514.0 1725.7,514.0 1726.9,514.0 1728.1,514.0 1729.3,514.0 1730.5,514.0 1731.7,514.0 1732.9,514.0 1734.1,514.0 1735.3,514.0 1736.5,514.0 1737.7,514.0 1738.9,514.0 1740.1,514.0 1741.3,514.0 1742.5,514.0 1743.7,514.0 1744.9,514.0 1746.1,514.0 1747.3,514.0 1748.5,514.0 1749.7,514.1 1750.9,514.1 1752.1,514.1 1753.3,514.1 1754.5,514.1 1755.7,514.1 1756.9,514.1 1758.1,514.1 1759.3,514.1 1760.5,514.1 1761.7,514.1 1762.9,514.1 1764.1,514.1 1765.3,514.1 1766.5,514.1 1767.7,514.1 1768.9,514.1 1770.1,514.1 1771.3,514.1 1772.5,514.1 1773.7,514.1 1774.9,514.1 1776.1,514.1 1777.3,514.1 1778.5,514.1 1779.7,514.1 1780.9,514.1 1782.1,514.2 1783.3,514.2 1784.5,514.2 1785.7,514.2 1786.9,514.2 1788.1,514.2 1789.3,514.2 1790.5,514.2 1791.7,514.2 1792.9,514.2 1794.1,514.2 1795.3,514.2 1796.5,514.2 1797.7,514.2 1798.9,514.2 1800.1,514.2 1801.3,514.2 1802.5,514.2 1803.7,514.2 1804.9,514.2 1806.1,514.2 1807.3,514.2 1808.5,514.3 1809.7,514.3 1810.9,514.3 1812.1,514.3 1813.3,514.3 1814.5,514.3 1815.7,514.3 1816.9,514.3 1818.1,514.3 1819.3,514.3 1820.5,514.3 1821.7,514.3 1822.9,514.3 1824.1,514.3 1825.3,514.3 1826.5,514.3 1827.7,514.3 1828.9,514.3 1830.1,514.3 1831.3,514.3 1832.5,514.3 1833.7,514.3 1834.9,514.3 1836.1,514.3 1837.3,514.3 1838.5,514.3 1839.7,514.4 1840.9,514.4 1842.1,514.4 1843.3,514.4 1844.5,514.4 1845.7,514.4 1846.9,514.4 1848.1,514.4 1849.3,514.4 1850.5,514.4 1851.7,514.4 1852.9,514.4 1854.1,514.4 1855.3,514.4 1856.5,514.4 1857.7,514.4 1858.9,514.4 1860.1,514.4 1861.3,514.4 1862.5,514.4 1863.7,514.4 1864.9,514.4 L1864.9,514.4 1866.0,514.6 1867.1,515.0 1868.1,515.7 1869.0,516.5 1869.7,517.5 1870.3,518.6 1870.8,519.6 1871.3,520.8 1871.7,521.9 1872.1,523.0 1872.6,524.1 1873.3,525.1 1874.1,526.0 1875.2,526.5 1876.4,526.8 1877.6,526.9 1878.8,527.0 1880.0,527.1 1881.2,527.1 1882.4,527.1 1883.6,527.1 1884.8,527.1 1886.0,527.1 1887.2,527.1 1888.4,527.0 1889.6,527.0 1890.8,526.9 1892.0,526.9 1893.3,526.9 1894.5,526.8 1895.7,526.8 1896.9,526.8 1898.1,526.9 1899.3,526.9 1900.5,526.9" fill="none" stroke="#2a2a2a" stroke-width="1.3" stroke-linejoin="round"/>
<path d="M1159.0,530.6 1160.2,530.4 1161.4,530.4 1162.6,530.5 1163.8,530.5 1165.0,530.5 1166.2,530.5 1167.5,530.5 1168.7,530.5 1169.9,530.5 1171.1,530.5 1172.3,530.5 1173.5,530.5 1174.7,530.5 1175.9,530.5 1177.1,530.5 1178.3,530.5 1179.6,530.5 1180.8,530.5 1182.0,530.5 1183.2,530.5 1184.4,530.5 1185.6,530.5 1186.8,530.5 1188.0,530.4 1189.2,530.4 1190.4,530.4 1191.7,530.4 1192.9,530.4 1194.1,530.4 1195.3,530.3 1196.5,530.3 1197.7,530.3 1198.9,530.3 1200.1,530.3 1201.3,530.3 1202.6,530.3 1203.8,530.2 1205.0,530.2 1206.2,530.2 1207.4,530.2 1208.6,530.2 1209.8,530.2 1211.0,530.2 1212.2,530.2 1213.4,530.2 1214.7,530.2 1215.9,530.2 1217.1,530.2 1218.3,530.2 1219.5,530.2 1220.7,530.2 1221.9,530.2 1223.1,530.2 1224.3,530.2 1225.5,530.2 1226.8,530.3 1228.0,530.3 1229.2,530.3 1230.4,530.3 1231.6,530.3 1232.8,530.3 1234.0,530.3 1235.2,530.3 1236.4,530.3 1237.6,530.3 1238.9,530.3 1240.1,530.2 1241.3,530.2 1242.5,530.2 1243.7,530.2 1244.9,530.1 1246.1,530.1 1247.3,530.0 1248.5,530.0 1249.7,529.9 1251.0,529.9 1252.2,529.8 1253.4,529.7 1254.6,529.5 1255.8,529.3 1256.9,529.1 1258.1,528.7 1259.2,528.3 1260.3,527.7 1261.3,527.1 1262.2,526.3 1263.1,525.4 1263.8,524.5 1264.5,523.5 1265.1,522.4 1265.6,521.3 1266.1,520.2 1266.5,519.1 1267.3,518.5 L1267.3,518.5 1268.1,518.9 1268.5,520.0 1269.1,521.1 1269.7,522.1 1270.4,523.1 1271.2,524.0 1272.1,524.9 1273.0,525.6 1274.0,526.3 1275.0,526.9 1276.1,527.5 1277.2,528.0 1278.3,528.4 1279.5,528.7 1280.6,529.0 1281.8,529.3 1283.0,529.5 1284.2,529.6 1285.4,529.7 1286.6,529.8 1287.8,529.9 1289.0,530.0 1290.2,530.0 1291.4,530.1 1292.6,530.1 1293.8,530.1 1295.0,530.1 1296.2,530.1 1297.4,530.1 1298.6,530.1 1299.8,530.0 1301.0,530.0 1302.2,530.0 1303.4,529.9 1304.6,529.8 1305.8,529.8 1307.0,529.7 1308.2,529.6 1309.4,529.5 1310.6,529.4 1311.8,529.3 1313.0,529.2 1314.2,529.0 1315.4,528.9 1316.6,528.8 1317.8,528.6 1318.9,528.4 1320.1,528.3 1321.3,528.1 1322.5,527.9 1323.7,527.7 1324.9,527.5 1326.1,527.3 1327.3,527.1 1328.4,526.9 1329.6,526.7 1330.8,526.5 1332.0,526.2 1333.2,526.0 1334.3,525.7 1335.5,525.5 1336.7,525.2 1337.8,524.9 1339.0,524.7 1340.2,524.4 1341.3,524.1 1342.5,523.8 1343.7,523.5 1344.8,523.1 1346.0,522.8 1347.1,522.5 1348.3,522.1 1349.4,521.7 1350.6,521.4 1351.7,521.0 1352.8,520.6 1354.0,520.2 1355.1,519.8 1356.2,519.4 1357.4,518.9 1358.5,518.5 1359.6,518.0 1360.7,517.6 1361.8,517.1 1362.9,516.6 1364.0,516.1 1365.1,515.6 1366.2,515.1 1367.2,514.5 1368.3,514.0 1369.4,513.4 1370.4,512.8 1371.5,512.2 1372.5,511.6 1373.5,511.0 1374.6,510.4 1375.6,509.7 1376.6,509.1 1377.6,508.4 1378.6,507.7 1379.5,507.0 1380.5,506.3 1381.5,505.6 1382.4,504.8 1383.3,504.1 1384.3,503.3 1385.2,502.5 1386.1,501.7 1386.9,500.9 1387.8,500.1 1388.7,499.2 1389.5,498.4 1390.4,497.5 1391.2,496.6 1392.0,495.7 1392.8,494.8 1393.6,493.9 1394.3,493.0 1395.1,492.1 1395.9,491.2 1396.6,490.2 1397.3,489.3 1398.0,488.3 1398.8,487.3 1399.4,486.3 1400.1,485.4 1400.8,484.4 1401.5,483.4 1402.1,482.3 1402.8,481.3 1403.4,480.3 1404.0,479.3 1404.7,478.3 1405.3,477.2 1405.9,476.2 1406.5,475.1 1407.1,474.1 1407.6,473.0 1408.2,472.0 1408.8,470.9 1409.3,469.8 1409.9,468.8 1410.4,467.7 1410.9,466.6 1411.4,465.5 1412.0,464.5 1412.5,463.4 1413.0,462.3 1413.5,461.2 1414.0,460.1 1414.5,459.0 1414.9,457.9 1415.4,456.8 1415.9,455.7 1416.3,454.6 1416.8,453.5 1417.3,452.3 1417.7,451.2 1418.2,450.1 1418.6,449.0 1419.0,447.9 1419.5,446.8 1419.9,445.6 1420.3,444.5 1420.8,443.4 1421.2,442.3 1421.6,441.1 1422.0,440.0 1422.4,438.9 1422.8,437.7 1423.2,436.6 1423.6,435.5 1424.0,434.3 1424.4,433.2 1424.7,432.0 1425.1,430.9 1425.5,429.8 1425.9,428.6 1426.2,427.5 1426.6,426.3 1426.9,425.2 1427.3,424.0 1427.6,422.9 1428.0,421.7 1428.3,420.6 1428.7,419.4 1429.0,418.3 1429.4,417.1 1429.7,416.0 1430.0,414.8 1430.3,413.6 1430.7,412.5 1431.0,411.3 1431.3,410.2 1431.6,409.0 1431.9,407.8 1432.2,406.7 1432.5,405.5 1432.8,404.4 1433.1,403.2 1433.4,402.0 1433.7,400.9 1434.0,399.7 1434.3,398.5 1434.6,397.4 1434.9,396.2 1435.2,395.0 1435.4,393.9 1435.7,392.7 1436.0,391.5 1436.3,390.4 1436.6,389.2 1436.8,388.0 1437.1,386.8 1437.4,385.7 1437.6,384.5 1437.9,383.3 1438.1,382.1 1438.4,381.0 1438.7,379.8 1438.9,378.6 1439.2,377.4 1439.4,376.3 1439.7,375.1 1439.9,373.9 1440.2,372.7 1440.4,371.6 1440.6,370.4 1440.9,369.2 1441.1,368.0 1441.4,366.9 1441.6,365.7 1441.8,364.5 1442.0,363.3 1442.3,362.1 1442.5,361.0 1442.7,359.8 1442.9,358.6 1443.2,357.4 1443.4,356.2 1443.6,355.0 1443.8,353.9 1444.0,352.7 1444.2,351.5 1444.5,350.3 1444.7,349.1 1444.9,347.9 1445.1,346.8 1445.3,345.6 1445.5,344.4 1445.7,343.2 1445.9,342.0 1446.1,340.8 1446.3,339.7 1446.5,338.5 1446.7,337.3 1446.8,336.1 1447.0,334.9 1447.2,333.7 1447.4,332.5 1447.6,331.3 1447.8,330.2 1448.0,329.0 1448.1,327.8 1448.3,326.6 1448.5,325.4 1448.7,324.2 1448.8,323.0 1449.0,321.8 1449.2,320.6 1449.3,319.4 1449.5,318.3 1449.7,317.1 1449.8,315.9 1450.0,314.7 1450.2,313.5 1450.3,312.3 1450.5,311.1 1450.6,309.9 1450.8,308.7 1451.0,307.5 1451.1,306.3 1451.3,305.2 1451.4,304.0 1451.6,302.8 1451.7,301.6 1451.9,300.4 1452.0,299.2 1452.1,298.0 1452.3,296.8 1452.4,295.6 1452.6,294.4 1452.7,293.2 1452.9,292.0 1453.0,290.8 1453.1,289.6 1453.3,288.4 1453.4,287.3 1453.5,286.1 1453.7,284.9 1453.8,283.7 1453.9,282.5 1454.0,281.3 1454.2,280.1 1454.3,278.9 1454.4,277.7 1454.5,276.5 1454.7,275.3 1454.8,274.1 1454.9,272.9 1455.0,271.7 1455.1,270.5 1455.3,269.3 1455.4,268.1 1455.5,266.9 1455.6,265.7 1455.7,264.5 1455.8,263.3 1455.9,262.1 1456.0,260.9 1456.2,259.7 1456.3,258.5 1456.4,257.3 1456.5,256.2 1456.6,255.0 1456.7,253.8 1456.8,252.6 1456.9,251.4 1457.0,250.2 1457.1,249.0 1457.2,247.8 1457.3,246.6 1457.4,245.4 1457.5,244.2 1457.6,243.0 1457.7,241.8 1457.8,240.6 1457.9,239.4 1458.0,238.2 1458.1,237.0 1458.2,235.8 1458.3,234.6 1458.4,233.4 1458.5,232.2 1458.6,231.0 1458.7,229.8 1458.8,228.6 1458.9,227.4 1459.0,226.2 1459.1,225.0 1459.2,223.8 1459.3,222.6 1459.4,221.4 1459.5,220.2 1459.6,219.0 1459.7,217.8 1459.9,216.6 1460.0,215.4 1460.1,214.2 1460.2,213.0 1460.3,211.8 1460.4,210.6 1460.5,209.4 1460.6,208.3 1460.7,207.1 1460.9,205.9 1461.0,204.7 1461.1,203.5 1461.2,202.3 1461.3,201.1 1461.5,199.9 1461.6,198.7 1461.7,197.5 1461.8,196.3 1462.0,195.1 1462.1,193.9 1462.2,192.7 1462.4,191.5 1462.5,190.3 1462.6,189.1 1462.8,187.9 1462.9,186.7 1463.1,185.5 1463.2,184.4 1463.4,183.2 1463.5,182.0 1463.7,180.8 1463.8,179.6 1464.0,178.4 1464.1,177.2 1464.3,176.0 1464.5,174.8 1464.6,173.6 1464.8,172.4 1465.0,171.2 1465.2,170.1 1465.3,168.9 1465.5,167.7 1465.7,166.5 1465.9,165.3 1466.1,164.1 1466.3,162.9 1466.5,161.7 1466.7,160.6 1466.9,159.4 1467.1,158.2 1467.3,157.0 1467.5,155.8 1467.7,154.6 1467.9,153.5 1468.1,152.3 1468.3,151.1 1468.6,149.9 1468.8,148.7 1469.0,147.6 1469.3,146.4 1469.5,145.2 1469.7,144.0 1470.0,142.8 1470.2,141.7 1471.5,140.9 L1471.5,140.9 1472.9,141.8 1473.0,143.0 1473.1,144.2 1473.2,145.4 1473.3,146.6 1473.4,147.8 1473.5,149.0 1473.6,150.2 1473.7,151.4 1473.8,152.6 1473.9,153.8 1474.0,155.0 1474.0,156.2 1474.1,157.4 1474.2,158.6 1474.3,159.8 1474.4,161.0 1474.5,162.2 1474.6,163.4 1474.6,164.6 1474.7,165.8 1474.8,167.0 1474.9,168.2 1475.0,169.4 1475.0,170.6 1475.1,171.8 1475.2,173.0 1475.3,174.2 1475.4,175.4 1475.4,176.6 1475.5,177.8 1475.6,179.0 1475.7,180.2 1475.7,181.4 1475.8,182.6 1475.9,183.8 1475.9,185.0 1476.0,186.2 1476.1,187.4 1476.1,188.6 1476.2,189.8 1476.3,191.0 1476.3,192.2 1476.4,193.4 1476.5,194.6 1476.5,195.8 1476.6,197.0 1476.7,198.2 1476.7,199.4 1476.8,200.6 1476.8,201.8 1476.9,203.0 1477.0,204.2 1477.0,205.4 1477.1,206.6 1477.1,207.8 1477.2,209.0 1477.2,210.2 1477.3,211.4 1477.4,212.6 1477.4,213.8 1477.5,215.0 1477.5,216.2 1477.6,217.4 1477.6,218.6 1477.7,219.8 1477.7,221.0 1477.8,222.2 1477.8,223.4 1477.9,224.6 1477.9,225.8 1478.0,227.0 1478.0,228.2 1478.1,229.4 1478.1,230.6 1478.2,231.8 1478.2,233.0 1478.3,234.2 1478.3,235.4 1478.4,236.6 1478.4,237.8 1478.5,239.0 1478.5,240.2 1478.6,241.4 1478.6,242.6 1478.6,243.8 1478.7,245.0 1478.7,246.2 1478.8,247.4 1478.8,248.6 1478.9,249.8 1478.9,251.0 1479.0,252.2 1479.0,253.4 1479.0,254.6 1479.1,255.8 1479.1,257.0 1479.2,258.2 1479.2,259.4 1479.2,260.7 1479.3,261.9 1479.3,263.1 1479.4,264.3 1479.4,265.5 1479.5,266.7 1479.5,267.9 1479.5,269.1 1479.6,270.3 1479.6,271.5 1479.7,272.7 1479.7,273.9 1479.7,275.1 1479.8,276.3 1479.8,277.5 1479.9,278.7 1479.9,279.9 1479.9,281.1 1480.0,282.3 1480.0,283.5 1480.0,284.7 1480.1,285.9 1480.1,287.1 1480.2,288.3 1480.2,289.5 1480.2,290.7 1480.3,291.9 1480.3,293.1 1480.4,294.3 1480.4,295.5 1480.4,296.7 1480.5,297.9 1480.5,299.1 1480.6,300.3 1480.6,301.5 1480.6,302.7 1480.7,303.9 1480.7,305.1 1480.8,306.3 1480.8,307.5 1480.8,308.7 1480.9,309.9 1480.9,311.1 1481.0,312.3 1481.0,313.5 1481.0,314.7 1481.1,315.9 1481.1,317.1 1481.2,318.3 1481.2,319.5 1481.2,320.7 1481.3,321.9 1481.3,323.1 1481.4,324.3 1481.4,325.5 1481.5,326.7 1481.5,327.9 1481.5,329.1 1481.6,330.3 1481.6,331.5 1481.7,332.7 1481.7,333.9 1481.8,335.1 1481.8,336.3 1481.9,337.5 1481.9,338.7 1482.0,339.9 1482.0,341.1 1482.0,342.3 1482.1,343.5 1482.1,344.7 1482.2,345.9 1482.2,347.1 1482.3,348.3 1482.3,349.5 1482.4,350.7 1482.4,351.9 1482.5,353.1 1482.5,354.3 1482.6,355.5 1482.6,356.7 1482.7,357.9 1482.8,359.1 1482.8,360.3 1482.9,361.5 1482.9,362.7 1483.0,363.9 1483.0,365.1 1483.1,366.3 1483.1,367.5 1483.2,368.7 1483.2,369.9 1483.3,371.1 1483.4,372.3 1483.4,373.5 1483.5,374.7 1483.5,375.9 1483.6,377.1 1483.7,378.3 1483.7,379.5 1483.8,380.7 1483.8,381.9 1483.9,383.1 1484.0,384.3 1484.0,385.5 1484.1,386.7 1484.1,388.0 1484.2,389.2 1484.3,390.4 1484.3,391.6 1484.4,392.8 1484.5,394.0 1484.5,395.2 1484.6,396.4 1484.7,397.6 1484.7,398.8 1484.8,400.0 1484.9,401.2 1484.9,402.4 1485.0,403.6 1485.1,404.8 1485.1,406.0 1485.2,407.2 1485.3,408.4 1485.3,409.6 1485.4,410.8 1485.5,412.0 1485.5,413.2 1485.6,414.3 1485.7,415.5 1485.8,416.7 1485.8,417.9 1485.9,419.1 1486.0,420.3 1486.0,421.5 1486.1,422.7 1486.2,423.9 1486.3,425.1 1486.3,426.3 1486.4,427.5 1486.5,428.7 1486.6,429.9 1486.6,431.1 1486.7,432.3 1486.8,433.5 1486.9,434.7 1486.9,435.9 1487.0,437.1 1487.1,438.3 1487.2,439.5 1487.2,440.7 1487.3,441.9 1487.4,443.1 1487.5,444.3 1487.5,445.5 1487.6,446.7 1487.7,447.9 1487.8,449.1 1487.9,450.3 1487.9,451.5 1488.0,452.7 1488.1,453.9 1488.2,455.1 1488.2,456.3 1488.3,457.5 1488.4,458.7 1488.5,459.9 1488.6,461.1 1488.6,462.3 1488.7,463.5 1488.8,464.7 1488.9,465.9 1489.0,467.1 1489.0,468.3 1489.1,469.5 1489.2,470.7 1489.3,471.9 1489.4,473.1 1489.5,474.3 1489.5,475.5 1489.6,476.7 1489.7,477.9 1489.8,479.1 1489.9,480.3 1490.0,481.5 1490.1,482.7 1490.2,483.9 1490.3,485.1 1490.4,486.3 1490.5,487.5 1490.6,488.7 1490.7,489.9 1490.8,491.1 1490.9,492.3 1491.0,493.5 1491.1,494.7 1491.2,495.9 1491.3,497.1 1491.4,498.3 1491.6,499.5 1491.7,500.7 1491.8,501.9 1491.9,503.1 1492.1,504.3 1492.2,505.4 1492.3,506.6 1492.5,507.8 1492.6,509.0 1492.7,510.2 1492.9,511.4 1493.0,512.6 1493.2,513.8 1493.3,515.0 1493.5,516.2 1493.7,517.4 1493.9,518.6 1494.2,519.7 1494.5,520.9 1494.8,522.0 1495.3,523.1 1495.8,524.2 1496.4,525.2 1497.2,526.2 1498.1,527.0 1499.0,527.8 1500.0,528.4 1501.1,528.9 1502.2,529.3 1503.4,529.7 1504.6,529.9 1505.7,530.1 1506.9,530.2 1508.1,530.3 1509.3,530.3 1510.5,530.3 1511.7,530.3 1512.9,530.2 1514.1,530.2 1515.3,530.1 1516.5,530.0 1517.7,529.9 1518.9,529.8 1520.1,529.7 1521.3,529.7 1522.5,529.6 1523.7,529.6 1524.9,529.6 1526.1,529.7 1527.3,529.8 1528.5,530.0 1530.0,530.0 L1530.0,530.0 1531.2,529.8 1532.4,529.8 1533.6,529.8 1534.8,529.9 1536.0,529.9 1537.2,529.9 1538.4,530.0 1539.6,530.0 1540.8,530.0 1542.0,530.0 1543.2,530.1 1544.4,530.1 1545.6,530.1 1546.8,530.1 1548.0,530.2 1549.2,530.2 1550.4,530.2 1551.6,530.2 1552.8,530.2 1554.0,530.3 1555.3,530.3 1556.5,530.3 1557.7,530.3 1558.9,530.3 1560.1,530.4 1561.3,530.4 1562.5,530.4 1563.7,530.4 1564.9,530.4 1566.1,530.4 1567.3,530.4 1568.5,530.5 1569.7,530.5 1570.9,530.5 1572.1,530.5 1573.3,530.5 1574.5,530.5 1575.7,530.5 1576.9,530.5 1578.1,530.5 1579.3,530.6 1580.5,530.6 1581.7,530.6 1582.9,530.6 1584.1,530.6 1585.3,530.6 1586.5,530.6 1587.7,530.6 1588.9,530.6 1590.1,530.6 1591.3,530.6 1592.5,530.6 1593.7,530.6 1594.9,530.6 1596.1,530.6 1597.3,530.6 1598.5,530.6 1599.7,530.6 1600.9,530.6 1602.1,530.6 1603.3,530.6 1604.5,530.6 1605.7,530.6 1606.9,530.6 1608.1,530.6 1609.3,530.6 1610.5,530.6 1611.7,530.6 1612.9,530.6 1614.1,530.6 1615.3,530.6 1616.5,530.6 1617.7,530.6 1618.9,530.6 1620.1,530.6 1621.3,530.6 1622.5,530.6 1623.7,530.6 1624.9,530.6 1626.1,530.6 1627.3,530.6 1628.5,530.6 1629.7,530.6 1630.9,530.6 1632.1,530.6 1633.3,530.6 1634.5,530.6 1635.7,530.6 1636.9,530.5 1638.2,530.5 1639.4,530.5 1640.6,530.5 1641.8,530.5 1643.0,530.5 1644.2,530.5 1645.4,530.5 1646.6,530.5 1647.8,530.5 1649.0,530.5 1650.2,530.5 1651.4,530.5 1652.6,530.4 1653.8,530.4 1655.0,530.4 1656.2,530.4 1657.4,530.4 1658.6,530.4 1659.8,530.4 1661.0,530.4 1662.2,530.4 1663.4,530.4 1664.6,530.4 1665.8,530.3 1667.0,530.3 1668.2,530.3 1669.4,530.3 1670.6,530.3 1671.8,530.3 1673.0,530.3 1674.2,530.3 1675.4,530.3 1676.6,530.3 1677.8,530.2 1679.0,530.2 1680.2,530.2 1681.4,530.2 1682.6,530.2 1683.8,530.2 1685.0,530.2 1686.2,530.2 1687.4,530.2 1688.6,530.2 1689.8,530.1 1691.0,530.1 1692.2,530.1 1693.4,530.1 1694.6,530.1 1695.8,530.1 1697.0,530.1 1698.2,530.1 1699.4,530.1 1700.6,530.1 1701.8,530.1 1703.0,530.1 1704.2,530.0 1705.4,530.0 1706.6,530.0 1707.8,530.0 1709.0,530.0 1710.2,530.0 1711.4,530.0 1712.6,530.0 1713.8,530.0 1715.0,530.0 1716.2,530.0 1717.4,530.0 1718.6,530.0 1719.8,530.0 1721.1,529.9 1722.3,529.9 1723.5,529.9 1724.7,529.9 1725.9,529.9 1727.1,529.9 1728.3,529.9 1729.5,529.9 1730.7,529.9 1731.9,529.9 1733.1,529.9 1734.3,529.9 1735.5,529.9 1736.7,529.9 1737.9,529.9 1739.1,529.9 1740.3,529.9 1741.5,529.9 1742.7,529.9 1743.9,529.9 1745.1,529.9 1746.3,529.9 1747.5,529.9 1748.7,529.9 1749.9,529.9 1751.1,529.9 1752.3,529.9 1753.5,529.9 1754.7,529.9 1755.9,529.9 1757.1,529.9 1758.3,529.9 1759.5,529.9 1760.7,529.9 1761.9,529.9 1763.1,529.9 1764.3,529.9 1765.5,529.9 1766.7,529.9 1767.9,529.9 1769.1,529.9 1770.3,529.9 1771.5,529.9 1772.7,529.9 1773.9,530.0 1775.1,530.0 1776.3,530.0 1777.5,530.0 1778.7,530.0 1779.9,530.0 1781.1,530.0 1782.3,530.0 1783.5,530.0 1784.7,530.0 1785.9,530.0 1787.1,530.0 1788.3,530.0 1789.5,530.0 1790.7,530.0 1791.9,530.0 1793.1,530.0 1794.3,530.0 1795.5,530.0 1796.7,530.0 1797.9,530.0 1799.1,530.0 1800.3,530.0 1801.5,530.1 1802.8,530.1 1804.0,530.1 1805.2,530.1 1806.4,530.1 1807.6,530.1 1808.8,530.1 1810.0,530.1 1811.2,530.1 1812.4,530.1 1813.6,530.1 1814.8,530.1 1816.0,530.1 1817.2,530.1 1818.4,530.1 1819.6,530.1 1820.8,530.1 1822.0,530.1 1823.2,530.1 1824.4,530.1 1825.6,530.1 1826.8,530.1 1828.0,530.1 1829.2,530.1 1830.4,530.1 1831.6,530.1 1832.8,530.1 1834.0,530.1 1835.2,530.1 1836.4,530.1 1837.6,530.1 1838.8,530.0 1840.0,530.0 1841.2,530.0 1842.4,530.0 1843.6,530.0 1844.8,530.0 1846.0,530.0 1847.2,530.0 1848.4,530.0 1849.6,530.0 1850.8,530.0 1852.0,529.9 1853.2,529.9 1854.4,529.8 1855.6,529.6 1856.8,529.4 1858.0,529.2 1859.1,528.8 1860.2,528.4 1861.3,527.8 1862.2,527.1 1863.1,526.2 1863.8,525.3 1864.4,524.2 1864.8,523.1 1865.2,521.9 1865.5,520.8 1865.7,519.6 1865.9,518.4 1866.0,517.2 1866.1,516.0 1866.2,514.8 1866.3,513.6 1866.3,512.4 1866.4,511.2 1866.5,510.0 1866.6,508.8 1866.7,507.6 1866.8,506.4 1866.9,505.2 1867.0,504.0 1867.1,502.8 1867.2,501.6 1867.4,500.4 1867.5,499.3 1867.5,498.1 1867.6,496.9 1867.7,495.7 1867.8,494.5 1867.9,493.3 1867.9,492.1 1868.0,490.9 1868.1,489.7 1868.1,488.5 1868.2,487.3 1868.2,486.1 1868.3,484.9 1868.4,483.7 1868.4,482.5 1868.5,481.3 1868.5,480.1 1868.6,478.9 1868.7,477.7 1868.7,476.5 1868.8,475.3 1868.9,474.1 1869.0,472.9 1869.1,471.7 1869.1,470.5 1869.2,469.3 1869.4,468.1 1869.5,466.9 1869.6,465.7 1869.7,464.5 1869.9,463.3 1870.0,462.1 1870.2,460.9 1870.3,459.7 1870.5,458.5 1870.7,457.3 1870.9,456.2 1871.3,455.0 L1871.3,455.0 1871.8,456.0 1871.9,457.2 1872.1,458.4 1872.2,459.6 1872.3,460.8 1872.4,462.0 1872.5,463.2 1872.7,464.4 1872.8,465.6 1872.9,466.8 1873.0,468.0 1873.1,469.2 1873.2,470.4 1873.3,471.6 1873.4,472.8 1873.5,474.0 1873.6,475.2 1873.6,476.4 1873.7,477.6 1873.8,478.8 1873.9,480.0 1874.0,481.2 1874.0,482.4 1874.1,483.6 1874.2,484.8 1874.2,486.0 1874.3,487.2 1874.3,488.4 1874.4,489.6 1874.4,490.8 1874.5,492.0 1874.5,493.2 1874.6,494.4 1874.6,495.6 1874.7,496.8 1874.7,498.0 1874.7,499.2 1874.7,500.4 1874.8,501.6 1874.8,502.8 1874.8,504.0 1874.8,505.2 1874.8,506.4 1874.9,507.6 1874.9,508.8 1874.9,510.0 1875.0,511.2 1875.1,512.4 1875.2,513.6 1875.3,514.7 1875.4,515.9 1875.6,517.1 1875.8,518.3 1876.0,519.5 1876.3,520.7 1876.6,521.8 1877.0,523.0 1877.4,524.1 1877.8,525.2 1878.4,526.3 1879.0,527.3 1879.7,528.3 1880.6,529.1 1881.6,529.7 1882.7,530.2 1883.9,530.5 1885.1,530.6 1886.3,530.6 1887.5,530.6 1888.7,530.5 1889.8,530.4 1891.0,530.2 1892.2,530.2 1893.4,530.3" fill="none" stroke="#2a2a2a" stroke-width="1.3" stroke-linejoin="round" stroke-dasharray="4.2 3.5"/>
<g stroke="#000" stroke-linecap="square" fill="none">
<rect x="116.6" y="747.1" width="763.8" height="568.2" stroke-width="2" stroke-linecap="butt"/>
<line x1="116.6" y1="1315.3" x2="116.6" y2="1327.3" stroke-width="2" stroke-linecap="butt"/>
<line x1="222.68" y1="1315.3" x2="222.68" y2="1327.3" stroke-width="2" stroke-linecap="butt"/>
<line x1="328.77" y1="1315.3" x2="328.77" y2="1327.3" stroke-width="2" stroke-linecap="butt"/>
<line x1="434.85" y1="1315.3" x2="434.85" y2="1327.3" stroke-width="2" stroke-linecap="butt"/>
<line x1="540.93" y1="1315.3" x2="540.93" y2="1327.3" stroke-width="2" stroke-linecap="butt"/>
<line x1="647.02" y1="1315.3" x2="647.02" y2="1327.3" stroke-width="2" stroke-linecap="butt"/>
<line x1="753.1" y1="1315.3" x2="753.1" y2="1327.3" stroke-width="2" stroke-linecap="butt"/>
<line x1="859.18" y1="1315.3" x2="859.18" y2="1327.3" stroke-width="2" stroke-linecap="butt"/>
<line x1="169.64" y1="1315.3" x2="169.64" y2="1321.8" stroke-width="2" stroke-linecap="butt"/>
<line x1="275.73" y1="1315.3" x2="275.73" y2="1321.8" stroke-width="2" stroke-linecap="butt"/>
<line x1="381.81" y1="1315.3" x2="381.81" y2="1321.8" stroke-width="2" stroke-linecap="butt"/>
<line x1="487.89" y1="1315.3" x2="487.89" y2="1321.8" stroke-width="2" stroke-linecap="butt"/>
<line x1="593.98" y1="1315.3" x2="593.98" y2="1321.8" stroke-width="2" stroke-linecap="butt"/>
<line x1="700.06" y1="1315.3" x2="700.06" y2="1321.8" stroke-width="2" stroke-linecap="butt"/>
<line x1="806.14" y1="1315.3" x2="806.14" y2="1321.8" stroke-width="2" stroke-linecap="butt"/>
<line x1="104.6" y1="1315.3" x2="116.6" y2="1315.3" stroke-width="2" stroke-linecap="butt"/>
<line x1="104.6" y1="1201.66" x2="116.6" y2="1201.66" stroke-width="2" stroke-linecap="butt"/>
<line x1="104.6" y1="1088.02" x2="116.6" y2="1088.02" stroke-width="2" stroke-linecap="butt"/>
<line x1="104.6" y1="974.38" x2="116.6" y2="974.38" stroke-width="2" stroke-linecap="butt"/>
<line x1="104.6" y1="860.74" x2="116.6" y2="860.74" stroke-width="2" stroke-linecap="butt"/>
<line x1="104.6" y1="747.1" x2="116.6" y2="747.1" stroke-width="2" stroke-linecap="butt"/>
<line x1="110.1" y1="1258.48" x2="116.6" y2="1258.48" stroke-width="2" stroke-linecap="butt"/>
<line x1="110.1" y1="1144.84" x2="116.6" y2="1144.84" stroke-width="2" stroke-linecap="butt"/>
<line x1="110.1" y1="1031.2" x2="116.6" y2="1031.2" stroke-width="2" stroke-linecap="butt"/>
<line x1="110.1" y1="917.56" x2="116.6" y2="917.56" stroke-width="2" stroke-linecap="butt"/>
<line x1="110.1" y1="803.92" x2="116.6" y2="803.92" stroke-width="2" stroke-linecap="butt"/>
<line x1="868.4" y1="1125.9" x2="880.4" y2="1125.9" stroke-width="2" stroke-linecap="butt"/>
<line x1="868.4" y1="936.5" x2="880.4" y2="936.5" stroke-width="2" stroke-linecap="butt"/>
<line x1="873.9" y1="1220.6" x2="880.4" y2="1220.6" stroke-width="2" stroke-linecap="butt"/>
<line x1="873.9" y1="1031.2" x2="880.4" y2="1031.2" stroke-width="2" stroke-linecap="butt"/>
<line x1="873.9" y1="841.8" x2="880.4" y2="841.8" stroke-width="2" stroke-linecap="butt"/>
</g>
<text transform="translate(116.6,1351.4) scale(1,1.1)" font-size="22.3" text-anchor="middle">0</text>
<text transform="translate(222.68,1351.4) scale(1,1.1)" font-size="22.3" text-anchor="middle">50</text>
<text transform="translate(328.77,1351.4) scale(1,1.1)" font-size="22.3" text-anchor="middle">100</text>
<text transform="translate(434.85,1351.4) scale(1,1.1)" font-size="22.3" text-anchor="middle">150</text>
<text transform="translate(540.93,1351.4) scale(1,1.1)" font-size="22.3" text-anchor="middle">200</text>
<text transform="translate(647.02,1351.4) scale(1,1.1)" font-size="22.3" text-anchor="middle">250</text>
<text transform="translate(753.1,1351.4) scale(1,1.1)" font-size="22.3" text-anchor="middle">300</text>
<text transform="translate(859.18,1351.4) scale(1,1.1)" font-size="22.3" text-anchor="middle">350</text>
<text transform="translate(97.8,1321.1) scale(1,1.1)" font-size="22.3" text-anchor="end">0</text>
<text transform="translate(97.8,1207.46) scale(1,1.1)" font-size="22.3" text-anchor="end">20</text>
<text transform="translate(97.8,1093.82) scale(1,1.1)" font-size="22.3" text-anchor="end">40</text>
<text transform="translate(97.8,980.18) scale(1,1.1)" font-size="22.3" text-anchor="end">60</text>
<text transform="translate(97.8,866.54) scale(1,1.1)" font-size="22.3" text-anchor="end">80</text>
<text transform="translate(97.8,752.9) scale(1,1.1)" font-size="22.3" text-anchor="end">100</text>
<text transform="translate(892.4,1321.1) scale(1,1.1)" font-size="22.3" text-anchor="start">0</text>
<text transform="translate(892.4,1131.7) scale(1,1.1)" font-size="22.3" text-anchor="start">500</text>
<text transform="translate(892.4,942.3) scale(1,1.1)" font-size="22.3" text-anchor="start">1000</text>
<text transform="translate(892.4,752.9) scale(1,1.1)" font-size="22.3" text-anchor="start">1500</text>
<text x="433.2" y="1394.7" font-size="27.48" text-anchor="start">Time (min)</text>
<text transform="translate(37.35,1101.8) rotate(-90)" font-size="27.25">Weight (%)</text>
<text transform="translate(974.9,1154.3) rotate(-90)" font-size="27.17">Temperature (°C)</text>
<text x="3" y="739.2" font-size="32" text-anchor="start">(c)</text>
<path d="M117.5,747.4 118.5,747.9 119.6,748.6 120.7,749.1 121.8,749.6 122.9,750.1 124.1,750.4 125.3,750.7 126.5,751.0 127.7,751.2 128.9,751.3 130.1,751.4 131.4,751.4 132.6,751.4 133.8,751.3 135.0,751.2 136.2,751.0 137.4,750.8 138.7,750.6 139.8,750.3 141.0,750.0 142.2,749.6 143.4,749.3 144.5,748.9 145.7,748.4 146.8,748.0 148.0,747.6 L148.0,747.6 149.0,746.7 150.2,746.8 151.4,747.1 152.6,747.3 153.7,747.7 154.9,748.0 156.0,748.5 157.1,748.9 158.2,749.5 159.2,750.0 160.3,750.6 161.2,751.3 162.2,752.0 163.1,752.8 164.0,753.6 164.9,754.4 165.7,755.3 166.6,756.2 167.3,757.1 168.1,758.0 168.8,759.0 169.5,760.0 170.1,761.0 170.8,762.0 171.4,763.1 172.0,764.1 172.5,765.2 173.1,766.2 173.6,767.3 174.2,768.4 174.7,769.5 175.2,770.5 175.7,771.6 176.2,772.7 176.7,773.8 177.1,774.9 177.6,776.0 178.1,777.1 178.6,778.2 179.0,779.3 179.5,780.4 180.0,781.5 180.5,782.6 181.0,783.7 181.5,784.8 182.0,785.9 182.5,787.0 183.0,788.1 183.5,789.2 184.1,790.3 184.6,791.3 185.2,792.4 185.7,793.5 186.3,794.5 186.9,795.6 187.5,796.6 188.1,797.6 188.7,798.7 189.3,799.7 190.0,800.7 190.6,801.7 191.3,802.7 192.0,803.7 192.7,804.7 193.4,805.7 194.1,806.6 194.8,807.6 195.6,808.5 196.4,809.4 197.2,810.3 198.0,811.2 198.8,812.1 199.6,813.0 200.5,813.8 201.3,814.6 202.2,815.4 203.1,816.2 204.1,817.0 205.0,817.7 206.0,818.4 207.0,819.1 208.0,819.8 209.0,820.4 210.0,821.1 211.1,821.6 212.1,822.2 213.2,822.7 214.3,823.2 215.4,823.6 216.6,824.0 217.7,824.4 218.8,824.8 220.0,825.1 221.2,825.5 222.3,825.8 223.5,826.1 224.6,826.4 225.8,826.6 227.0,826.9 228.2,827.1 229.3,827.4 230.5,827.6 231.7,827.9 232.9,828.1 234.0,828.4 235.2,828.7 236.4,828.9 237.5,829.2 238.7,829.5 239.9,829.8 241.0,830.2 242.2,830.5 243.3,830.9 244.4,831.3 245.6,831.7 246.7,832.1 247.8,832.6 248.9,833.1 250.0,833.5 251.1,834.0 252.2,834.5 253.3,835.1 254.4,835.6 255.4,836.1 256.5,836.7 257.6,837.3 258.6,837.9 259.7,838.4 260.7,839.0 261.7,839.7 262.8,840.3 263.8,840.9 264.8,841.5 265.8,842.2 266.9,842.8 267.9,843.4 268.9,844.1 269.9,844.7 270.9,845.4 271.9,846.1 272.9,846.7 273.9,847.4 274.9,848.1 275.9,848.7 276.9,849.4 277.9,850.1 278.9,850.8 279.9,851.4 280.8,852.1 281.8,852.8 282.8,853.5 283.8,854.2 284.8,854.9 285.7,855.6 286.7,856.3 287.7,857.0 288.6,857.7 289.6,858.5 290.6,859.2 291.5,859.9 292.5,860.6 293.5,861.3 294.4,862.1 295.4,862.8 296.3,863.5 297.3,864.3 298.2,865.0 299.2,865.7 300.1,866.5 301.0,867.2 302.0,868.0 302.9,868.7 303.9,869.5 304.8,870.2 305.7,871.0 306.7,871.8 307.6,872.5 308.5,873.3 309.4,874.1 310.4,874.8 311.3,875.6 312.2,876.4 313.1,877.1 314.0,877.9 315.0,878.7 315.9,879.5 316.8,880.3 317.7,881.0 318.6,881.8 319.5,882.6 320.4,883.4 321.3,884.2 322.2,885.0 323.1,885.8 324.0,886.6 324.9,887.4 325.8,888.2 326.7,889.0 327.6,889.8 328.5,890.6 329.3,891.4 330.2,892.3 331.1,893.1 332.0,893.9 332.9,894.7 333.7,895.5 334.6,896.4 335.5,897.2 336.4,898.0 337.2,898.8 338.1,899.7 339.0,900.5 339.8,901.3 340.7,902.2 341.5,903.0 342.4,903.9 343.3,904.7 344.1,905.6 345.0,906.4 345.8,907.2 346.7,908.1 347.5,909.0 348.4,909.8 349.2,910.7 350.0,911.5 350.9,912.4 351.7,913.2 352.5,914.1 353.4,915.0 354.2,915.8 355.0,916.7 355.9,917.6 356.7,918.5 357.5,919.3 358.3,920.2 359.1,921.1 360.0,922.0 360.8,922.9 361.6,923.7 362.4,924.6 363.2,925.5 364.0,926.4 364.8,927.3 365.6,928.2 366.4,929.1 367.2,930.0 368.0,930.9 368.8,931.8 369.6,932.7 370.4,933.6 371.2,934.5 372.0,935.4 372.8,936.3 373.5,937.2 374.3,938.2 375.1,939.1 375.9,940.0 376.6,940.9 377.4,941.8 378.2,942.8 378.9,943.7 379.7,944.6 380.5,945.5 381.2,946.5 382.0,947.4 382.7,948.3 383.5,949.3 384.3,950.2 385.0,951.1 385.8,952.1 386.5,953.0 387.2,954.0 388.0,954.9 388.7,955.9 389.5,956.8 390.2,957.8 390.9,958.7 391.7,959.7 392.4,960.6 393.1,961.6 393.8,962.5 394.5,963.5 395.3,964.5 396.0,965.4 396.7,966.4 397.4,967.4 398.1,968.3 398.8,969.3 399.5,970.3 400.2,971.3 400.9,972.2 401.6,973.2 402.3,974.2 403.0,975.2 403.7,976.1 404.4,977.1 405.1,978.1 405.8,979.1 406.5,980.1 407.1,981.1 407.8,982.1 408.5,983.1 409.2,984.1 409.8,985.1 410.5,986.1 411.2,987.1 411.8,988.1 412.5,989.1 413.2,990.1 413.8,991.1 414.5,992.1 415.2,993.1 415.8,994.1 416.5,995.1 417.1,996.1 417.8,997.1 418.4,998.1 419.1,999.1 419.7,1000.1 420.3,1001.2 421.0,1002.2 421.6,1003.2 422.3,1004.2 422.9,1005.2 423.5,1006.3 424.2,1007.3 424.8,1008.3 425.4,1009.3 426.1,1010.3 426.7,1011.4 427.3,1012.4 427.9,1013.4 428.6,1014.4 429.2,1015.5 429.8,1016.5 430.4,1017.5 431.0,1018.6 431.6,1019.6 432.3,1020.6 432.9,1021.7 433.5,1022.7 434.1,1023.7 434.7,1024.8 435.3,1025.8 435.9,1026.8 436.5,1027.9 437.1,1028.9 437.7,1030.0 438.3,1031.0 438.9,1032.0 439.5,1033.1 440.1,1034.1 440.7,1035.2 441.3,1036.2 441.9,1037.2 442.5,1038.3 443.1,1039.3 443.7,1040.4 444.3,1041.4 444.9,1042.5 445.5,1043.5 446.1,1044.5 446.7,1045.6 447.3,1046.6 447.9,1047.7 448.5,1048.7 449.0,1049.8 449.6,1050.8 450.2,1051.9 450.8,1052.9 451.4,1054.0 452.0,1055.0 452.6,1056.1 453.1,1057.1 453.7,1058.2 454.3,1059.2 454.9,1060.3 455.5,1061.3 456.1,1062.4 456.6,1063.4 457.2,1064.5 457.8,1065.5 458.4,1066.6 459.0,1067.6 459.5,1068.7 460.1,1069.7 460.7,1070.8 461.3,1071.8 461.9,1072.9 462.4,1074.0 463.0,1075.0 463.6,1076.1 464.2,1077.1 464.8,1078.2 465.3,1079.2 465.9,1080.3 466.5,1081.3 467.1,1082.4 467.7,1083.4 468.2,1084.5 468.8,1085.5 469.4,1086.6 470.0,1087.6 470.6,1088.7 471.1,1089.7 471.7,1090.8 472.3,1091.8 472.9,1092.9 473.5,1093.9 474.1,1095.0 474.6,1096.0 475.2,1097.1 475.8,1098.1 476.4,1099.2 477.0,1100.2 477.6,1101.3 478.2,1102.3 478.8,1103.4 479.3,1104.4 479.9,1105.5 480.5,1106.5 481.1,1107.6 481.7,1108.6 482.3,1109.6 482.9,1110.7 483.5,1111.7 484.1,1112.8 484.7,1113.8 485.3,1114.9 485.9,1115.9 486.5,1116.9 487.1,1118.0 487.7,1119.0 488.3,1120.0 488.9,1121.1 489.5,1122.1 490.2,1123.2 490.8,1124.2 491.4,1125.2 492.0,1126.3 492.6,1127.3 493.2,1128.3 493.8,1129.3 494.5,1130.4 495.1,1131.4 495.7,1132.4 496.3,1133.5 497.0,1134.5 497.6,1135.5 498.2,1136.5 498.9,1137.5 499.5,1138.6 500.1,1139.6 500.8,1140.6 501.4,1141.6 502.0,1142.6 502.7,1143.7 503.3,1144.7 504.0,1145.7 504.6,1146.7 505.3,1147.7 505.9,1148.7 506.5,1149.7 507.2,1150.8 507.8,1151.8 508.5,1152.8 509.1,1153.8 509.8,1154.8 510.4,1155.8 511.1,1156.8 511.7,1157.8 512.4,1158.8 513.0,1159.8 513.7,1160.9 514.4,1161.9 515.0,1162.9 515.7,1163.9 516.3,1164.9 517.0,1165.9 517.6,1166.9 518.3,1167.9 518.9,1168.9 519.6,1169.9 520.2,1170.9 520.9,1171.9 521.5,1173.0 522.2,1174.0 522.8,1175.0 523.5,1176.0 524.1,1177.0 524.8,1178.0 525.4,1179.0 526.1,1180.0 526.7,1181.0 527.4,1182.1 528.0,1183.1 528.7,1184.1 529.3,1185.1 530.0,1186.1 530.6,1187.1 531.2,1188.1 531.9,1189.2 532.5,1190.2 533.2,1191.2 533.8,1192.2 534.4,1193.2 535.1,1194.3 535.7,1195.3 536.3,1196.3 537.0,1197.3 537.6,1198.3 538.2,1199.4 538.9,1200.4 539.5,1201.4 540.2,1202.4 540.8,1203.4 541.4,1204.4 542.1,1205.5 542.7,1206.5 543.4,1207.5 544.0,1208.5 544.7,1209.5 545.3,1210.5 546.0,1211.5 546.6,1212.5 547.3,1213.5 547.9,1214.5 548.6,1215.5 549.3,1216.5 549.9,1217.5 550.6,1218.5 551.3,1219.5 552.0,1220.5 552.6,1221.5 553.3,1222.5 554.0,1223.5 554.7,1224.5 555.4,1225.4 556.1,1226.4 556.8,1227.4 557.5,1228.4 558.3,1229.3 559.0,1230.3 559.7,1231.2 560.4,1232.2 561.2,1233.1 561.9,1234.1 562.7,1235.0 563.4,1236.0 564.2,1236.9 564.9,1237.8 565.7,1238.7 566.5,1239.6 567.3,1240.6 568.1,1241.5 568.9,1242.4 569.7,1243.3 570.5,1244.1 571.3,1245.0 572.1,1245.9 573.0,1246.8 573.8,1247.6 574.7,1248.4 575.5,1249.3 576.4,1250.1 577.3,1250.9 578.2,1251.7 579.1,1252.5 580.0,1253.3 581.0,1254.0 581.9,1254.8 582.8,1255.5 583.8,1256.2 584.8,1256.9 585.8,1257.6 586.8,1258.3 587.8,1258.9 588.8,1259.5 589.9,1260.1 590.9,1260.7 592.0,1261.3 593.1,1261.8 594.1,1262.3 595.2,1262.8 596.3,1263.3 597.4,1263.8 598.6,1264.2 599.7,1264.7 600.8,1265.1 601.9,1265.5 603.1,1265.9 604.2,1266.3 605.3,1266.6 606.5,1267.0 607.6,1267.3 608.8,1267.7 610.0,1268.0 611.1,1268.3 612.3,1268.6 613.4,1268.9 614.6,1269.2 615.8,1269.5 616.9,1269.8 618.1,1270.0 619.3,1270.3 620.5,1270.6 621.6,1270.8 622.8,1271.1 624.0,1271.3 625.2,1271.5 626.3,1271.8 627.5,1272.0 628.7,1272.2 629.9,1272.4 631.1,1272.7 632.3,1272.9 633.4,1273.1 634.6,1273.3 635.8,1273.5 637.0,1273.7 638.2,1273.8 639.4,1274.0 640.6,1274.2 641.7,1274.4 642.9,1274.6 644.1,1274.7 645.3,1274.9 646.5,1275.1 647.7,1275.3 648.9,1275.4 650.1,1275.6 651.3,1275.7 652.4,1275.9 653.6,1276.1 654.8,1276.2 656.0,1276.4 657.2,1276.5 658.4,1276.7 659.6,1276.8 660.8,1277.0 662.0,1277.1 663.2,1277.3 664.4,1277.4 665.6,1277.6 666.7,1277.8 667.9,1277.9 669.1,1278.1 670.3,1278.2 671.5,1278.4 672.7,1278.5 673.9,1278.7 675.1,1278.9 676.3,1279.0 677.5,1279.2 678.7,1279.4 679.8,1279.5 681.0,1279.7 682.2,1279.9 683.4,1280.0 684.6,1280.2 685.8,1280.4 687.0,1280.6 688.2,1280.7 689.4,1280.9 690.5,1281.1 691.7,1281.3 692.9,1281.4 694.1,1281.6 695.3,1281.8 696.5,1282.0 697.7,1282.2 698.9,1282.3 700.0,1282.5 701.2,1282.7 702.4,1282.9 703.6,1283.0 704.8,1283.2 706.0,1283.4 707.2,1283.6 708.4,1283.7 709.6,1283.9 710.7,1284.1 711.9,1284.2 713.1,1284.4 714.3,1284.6 715.5,1284.7 716.7,1284.9 717.9,1285.1 719.1,1285.2 720.3,1285.4 721.5,1285.5 722.7,1285.7 723.8,1285.8 725.0,1286.0 726.2,1286.1 727.4,1286.3 728.6,1286.4 729.8,1286.5 731.0,1286.7 732.2,1286.8 733.4,1286.9 734.6,1287.0 735.8,1287.2 737.0,1287.3 738.2,1287.4 739.4,1287.5 740.6,1287.6 741.8,1287.7 743.0,1287.8 744.2,1287.9 745.4,1288.0 746.6,1288.0 747.8,1288.1 749.0,1288.2 750.2,1288.3 751.4,1288.4 752.6,1288.4 753.8,1288.5 755.0,1288.6 756.2,1288.6 757.4,1288.7 758.6,1288.7 759.8,1288.8 761.0,1288.8 762.2,1288.9 763.4,1288.9 764.6,1289.0 765.8,1289.0 767.0,1289.1 768.2,1289.1 769.4,1289.1 770.6,1289.2 771.8,1289.2 773.0,1289.2 774.2,1289.3 775.4,1289.3 776.6,1289.3 777.8,1289.3 779.0,1289.3 780.2,1289.4 781.4,1289.4 782.6,1289.4 783.8,1289.4 785.0,1289.4 786.2,1289.4 787.4,1289.4 788.6,1289.4 789.8,1289.4 791.0,1289.4 792.2,1289.4 793.4,1289.4 794.6,1289.4 795.8,1289.4 797.0,1289.4 798.2,1289.4 799.4,1289.4 800.6,1289.4 801.8,1289.4 803.0,1289.4 804.2,1289.4 805.4,1289.4 806.6,1289.4 807.8,1289.4 809.0,1289.4 810.2,1289.4 811.4,1289.4 812.6,1289.4 813.8,1289.3 815.0,1289.3 816.2,1289.3 817.4,1289.3 818.6,1289.3 819.8,1289.3 821.0,1289.3 822.2,1289.3 823.4,1289.3 824.6,1289.3 825.8,1289.3 827.0,1289.2 828.2,1289.2 829.4,1289.2 830.6,1289.2 831.8,1289.2 833.0,1289.2 834.2,1289.2 835.4,1289.2 836.6,1289.2 837.8,1289.2 839.0,1289.2 840.3,1289.2 841.5,1289.2 842.7,1289.2 843.9,1289.2 845.1,1289.2 846.3,1289.2 847.5,1289.2 848.7,1289.2 849.9,1289.3 851.1,1289.3 852.3,1289.3 853.5,1289.3 854.7,1289.3 855.9,1289.3 857.1,1289.4 858.3,1289.4 859.5,1289.4 860.7,1289.3" fill="none" stroke="#000" stroke-width="2.1" stroke-linejoin="round"/>
<path d="M119.0,748.2 119.4,749.2 120.0,750.4 120.6,751.4 121.4,752.4 122.2,753.3 123.2,754.1 124.2,754.8 125.3,755.4 126.4,755.9 127.5,756.4 128.7,756.8 129.9,757.1 131.1,757.3 132.3,757.6 133.6,757.8 134.8,757.9 136.0,758.1 137.2,758.2 138.5,758.3 139.7,758.4 141.0,758.6 L141.0,758.6 142.1,759.0 142.9,759.9 143.7,760.8 144.4,761.7 145.2,762.7 145.9,763.6 146.6,764.6 147.3,765.6 147.9,766.6 148.5,767.7 149.1,768.7 149.7,769.8 150.2,770.8 150.8,771.9 151.3,773.0 151.8,774.1 152.2,775.2 152.6,776.3 153.1,777.5 153.5,778.6 153.9,779.7 154.2,780.9 154.6,782.0 154.9,783.2 155.3,784.3 155.6,785.5 155.9,786.6 156.2,787.8 156.5,789.0 156.7,790.1 157.0,791.3 157.3,792.5 157.6,793.6 157.8,794.8 158.1,796.0 158.3,797.2 158.6,798.3 158.8,799.5 159.1,800.7 159.3,801.9 159.6,803.0 159.9,804.2 160.1,805.4 160.4,806.5 160.7,807.7 161.0,808.9 161.3,810.0 161.6,811.2 161.9,812.4 162.2,813.5 162.6,814.7 162.9,815.8 163.3,817.0 163.6,818.1 164.0,819.2 164.4,820.4 164.8,821.5 165.2,822.7 165.6,823.8 166.0,824.9 166.4,826.0 166.8,827.2 167.2,828.3 167.6,829.4 168.1,830.5 168.5,831.6 169.0,832.8 169.4,833.9 169.9,835.0 170.3,836.1 170.8,837.2 171.2,838.3 171.7,839.4 172.1,840.5 172.6,841.6 173.1,842.8 173.5,843.9 174.0,845.0 174.4,846.1 174.9,847.2 175.4,848.3 175.8,849.4 176.3,850.5 176.7,851.6 177.2,852.7 177.6,853.9 178.1,855.0 178.5,856.1 179.0,857.2 179.4,858.3 179.8,859.4 180.3,860.6 180.7,861.7 181.1,862.8 181.5,863.9 181.9,865.1 182.3,866.2 182.7,867.3 183.1,868.5 183.4,869.6 183.8,870.8 184.2,871.9 184.5,873.1 184.9,874.2 185.2,875.3 185.6,876.5 186.0,877.6 186.3,878.8 186.7,879.9 187.0,881.1 187.4,882.2 187.8,883.4 188.1,884.5 188.5,885.6 188.9,886.8 189.3,887.9 189.8,889.0 190.2,890.1 190.6,891.3 191.1,892.4 191.6,893.5 192.1,894.6 192.6,895.6 193.1,896.7 193.7,897.8 194.3,898.8 194.9,899.9 195.5,900.9 196.1,901.9 196.8,902.9 197.5,903.9 198.2,904.9 198.9,905.8 199.7,906.7 200.5,907.7 201.3,908.6 202.1,909.4 202.9,910.3 203.8,911.1 204.7,911.9 205.6,912.7 206.5,913.5 207.5,914.2 208.4,914.9 209.4,915.6 210.4,916.2 211.5,916.9 212.5,917.5 213.6,918.0 214.7,918.5 215.8,919.0 216.9,919.5 218.0,919.9 219.1,920.3 220.3,920.7 221.4,921.0 222.6,921.4 223.7,921.8 224.8,922.1 226.0,922.5 227.1,922.8 228.3,923.2 229.4,923.6 230.5,924.0 231.7,924.4 232.8,924.9 233.9,925.4 235.0,925.9 236.0,926.4 237.1,927.0 238.1,927.6 239.2,928.2 240.2,928.9 241.1,929.5 242.1,930.3 243.1,931.0 244.0,931.8 244.9,932.5 245.8,933.4 246.6,934.2 247.5,935.1 248.3,935.9 249.1,936.8 249.9,937.7 250.7,938.6 251.4,939.6 252.2,940.5 252.9,941.5 253.6,942.4 254.3,943.4 255.0,944.4 255.7,945.4 256.4,946.4 257.0,947.4 257.7,948.4 258.4,949.4 259.0,950.4 259.7,951.4 260.3,952.4 261.0,953.4 261.6,954.4 262.3,955.4 262.9,956.4 263.6,957.4 264.3,958.4 264.9,959.4 265.5,960.4 266.2,961.5 266.8,962.5 267.5,963.5 268.1,964.5 268.8,965.5 269.4,966.5 270.1,967.5 270.7,968.5 271.3,969.6 272.0,970.6 272.6,971.6 273.3,972.6 273.9,973.6 274.5,974.6 275.2,975.7 275.8,976.7 276.4,977.7 277.1,978.7 277.7,979.7 278.3,980.8 279.0,981.8 279.6,982.8 280.2,983.8 280.9,984.9 281.5,985.9 282.1,986.9 282.7,987.9 283.4,989.0 284.0,990.0 284.6,991.0 285.2,992.0 285.8,993.1 286.5,994.1 287.1,995.1 287.7,996.2 288.3,997.2 288.9,998.2 289.5,999.3 290.1,1000.3 290.7,1001.3 291.3,1002.4 292.0,1003.4 292.6,1004.4 293.2,1005.5 293.8,1006.5 294.4,1007.5 295.0,1008.6 295.6,1009.6 296.2,1010.7 296.8,1011.7 297.4,1012.7 298.0,1013.8 298.5,1014.8 299.1,1015.9 299.7,1016.9 300.3,1018.0 300.9,1019.0 301.5,1020.1 302.1,1021.1 302.6,1022.2 303.2,1023.2 303.8,1024.3 304.4,1025.3 305.0,1026.4 305.5,1027.4 306.1,1028.5 306.7,1029.5 307.3,1030.6 307.8,1031.7 308.4,1032.7 309.0,1033.8 309.5,1034.8 310.1,1035.9 310.6,1036.9 311.2,1038.0 311.8,1039.1 312.3,1040.1 312.9,1041.2 313.4,1042.3 314.0,1043.3 314.5,1044.4 315.1,1045.5 315.6,1046.5 316.2,1047.6 316.7,1048.7 317.3,1049.8 317.8,1050.8 318.3,1051.9 318.9,1053.0 319.4,1054.0 319.9,1055.1 320.5,1056.2 321.0,1057.3 321.5,1058.4 322.0,1059.4 322.6,1060.5 323.1,1061.6 323.6,1062.7 324.1,1063.8 324.6,1064.8 325.1,1065.9 325.7,1067.0 326.2,1068.1 326.7,1069.2 327.2,1070.3 327.7,1071.4 328.2,1072.5 328.7,1073.5 329.2,1074.6 329.7,1075.7 330.2,1076.8 330.7,1077.9 331.2,1079.0 331.7,1080.1 332.2,1081.2 332.7,1082.3 333.2,1083.4 333.7,1084.5 334.2,1085.6 334.6,1086.7 335.1,1087.8 335.6,1088.9 336.1,1090.0 336.6,1091.1 337.1,1092.2 337.6,1093.3 338.0,1094.4 338.5,1095.5 339.0,1096.6 339.5,1097.7 340.0,1098.8 340.4,1099.9 340.9,1101.0 341.4,1102.1 341.9,1103.2 342.4,1104.3 342.8,1105.4 343.3,1106.5 343.8,1107.6 344.3,1108.7 344.7,1109.8 345.2,1110.9 345.7,1112.0 346.2,1113.1 346.6,1114.2 347.1,1115.3 347.6,1116.4 348.1,1117.5 348.5,1118.6 349.0,1119.7 349.5,1120.8 350.0,1121.9 350.4,1123.0 350.9,1124.1 351.4,1125.2 351.9,1126.3 352.3,1127.4 352.8,1128.5 353.3,1129.6 353.8,1130.7 354.3,1131.8 354.7,1132.9 355.2,1134.0 355.7,1135.1 356.2,1136.2 356.7,1137.3 357.1,1138.4 357.6,1139.5 358.1,1140.6 358.6,1141.7 359.1,1142.8 359.6,1143.9 360.1,1145.0 360.5,1146.1 361.0,1147.2 361.5,1148.3 362.0,1149.4 362.5,1150.5 363.0,1151.6 363.5,1152.7 364.0,1153.8 364.5,1154.9 365.0,1155.9 365.5,1157.0 366.0,1158.1 366.5,1159.2 367.0,1160.3 367.5,1161.4 368.0,1162.5 368.5,1163.6 369.0,1164.7 369.5,1165.7 370.1,1166.8 370.6,1167.9 371.1,1169.0 371.6,1170.1 372.1,1171.2 372.7,1172.2 373.2,1173.3 373.7,1174.4 374.2,1175.5 374.8,1176.5 375.3,1177.6 375.8,1178.7 376.4,1179.8 376.9,1180.8 377.5,1181.9 378.0,1183.0 378.5,1184.1 379.1,1185.1 379.6,1186.2 380.2,1187.3 380.7,1188.3 381.3,1189.4 381.9,1190.5 382.4,1191.5 383.0,1192.6 383.5,1193.6 384.1,1194.7 384.7,1195.7 385.3,1196.8 385.8,1197.9 386.4,1198.9 387.0,1200.0 387.6,1201.0 388.2,1202.0 388.8,1203.1 389.4,1204.1 389.9,1205.2 390.5,1206.2 391.1,1207.3 391.8,1208.3 392.4,1209.3 393.0,1210.4 393.6,1211.4 394.2,1212.4 394.8,1213.5 395.4,1214.5 396.1,1215.5 396.7,1216.5 397.3,1217.6 397.9,1218.6 398.6,1219.6 399.2,1220.6 399.9,1221.6 400.5,1222.6 401.2,1223.7 401.8,1224.7 402.5,1225.7 403.1,1226.7 403.8,1227.7 404.4,1228.7 405.1,1229.7 405.8,1230.7 406.5,1231.7 407.1,1232.6 407.8,1233.6 408.5,1234.6 409.2,1235.6 409.9,1236.6 410.6,1237.6 411.3,1238.5 412.0,1239.5 412.7,1240.5 413.4,1241.5 414.1,1242.4 414.8,1243.4 415.6,1244.3 416.3,1245.3 417.0,1246.3 417.7,1247.2 418.5,1248.2 419.2,1249.1 420.0,1250.0 420.7,1251.0 421.5,1251.9 422.2,1252.8 423.0,1253.8 423.7,1254.7 424.5,1255.6 425.3,1256.5 426.1,1257.5 426.8,1258.4 427.6,1259.3 428.4,1260.2 429.2,1261.1 430.0,1261.9 430.9,1262.8 431.7,1263.7 432.6,1264.5 433.4,1265.4 434.3,1266.2 435.2,1266.9 436.2,1267.7 437.1,1268.4 438.1,1269.1 439.1,1269.8 440.1,1270.4 441.2,1270.9 442.3,1271.4 443.4,1271.9 444.5,1272.4 445.6,1272.8 446.8,1273.2 447.9,1273.5 449.1,1273.8 450.2,1274.1 451.4,1274.4 452.6,1274.7 453.7,1274.9 454.9,1275.2 456.1,1275.4 457.3,1275.6 458.5,1275.9 459.6,1276.1 460.8,1276.3 462.0,1276.4 463.2,1276.6 464.4,1276.8 465.6,1276.9 466.8,1277.1 468.0,1277.2 469.2,1277.3 470.4,1277.4 471.6,1277.5 472.7,1277.6 473.9,1277.7 475.1,1277.8 476.3,1277.9 477.5,1278.0 478.7,1278.0 479.9,1278.1 481.1,1278.1 482.3,1278.2 483.5,1278.2 484.7,1278.3 485.9,1278.3 487.1,1278.3 488.3,1278.3 489.5,1278.3 490.7,1278.3 491.9,1278.3 493.1,1278.3 494.3,1278.3 495.5,1278.3 496.7,1278.3 497.9,1278.3 499.1,1278.3 500.3,1278.3 501.5,1278.3 502.7,1278.2 503.9,1278.2 505.1,1278.2 506.3,1278.2 507.5,1278.1 508.7,1278.1 509.9,1278.1 511.1,1278.0 512.3,1278.0 513.5,1278.0 514.7,1278.0 515.9,1277.9 517.1,1277.9 518.3,1277.9 519.5,1277.8 520.7,1277.8 521.9,1277.8 523.1,1277.8 524.3,1277.7 525.5,1277.7 526.7,1277.7 527.9,1277.7 529.1,1277.7 530.3,1277.7 531.5,1277.6 532.7,1277.6 533.9,1277.6 535.1,1277.6 536.3,1277.6 537.5,1277.6 538.7,1277.6 539.9,1277.6 541.1,1277.6 542.3,1277.6 543.5,1277.6 544.7,1277.6 545.9,1277.5 547.1,1277.5 548.4,1277.5 549.6,1277.5 550.8,1277.5 552.0,1277.5 553.2,1277.5 554.4,1277.5 555.6,1277.6 556.8,1277.6 558.0,1277.6 559.2,1277.6 560.4,1277.6 561.6,1277.6 562.8,1277.6 564.0,1277.6 565.2,1277.6 566.4,1277.6 567.6,1277.6 568.8,1277.6 570.0,1277.6 571.2,1277.6 572.4,1277.6 573.6,1277.6 574.8,1277.7 576.0,1277.7 577.2,1277.7 578.4,1277.7 579.6,1277.7 580.8,1277.7 582.0,1277.7 583.2,1277.7 584.4,1277.7 585.6,1277.7 586.8,1277.7 588.0,1277.7 589.2,1277.8 590.4,1277.8 591.6,1277.8 592.8,1277.8 594.0,1277.8 595.2,1277.8 596.4,1277.8 597.6,1277.8 598.8,1277.8 600.0,1277.8 601.2,1277.8 602.4,1277.8 603.6,1277.8 604.8,1277.8 606.0,1277.8 607.2,1277.8 608.4,1277.8 609.6,1277.9 610.8,1277.9 612.0,1277.9 613.2,1277.9 614.4,1277.9 615.6,1277.9 616.8,1277.9 618.0,1277.9 619.2,1277.9 620.4,1277.9 621.6,1277.9 622.8,1277.9 624.0,1277.9 625.2,1277.9 626.4,1277.9 627.6,1277.9 628.8,1277.9 630.0,1277.9 631.2,1277.9 632.4,1277.9 633.6,1277.9 634.8,1277.9 636.0,1277.9 637.2,1277.9 638.4,1277.9 639.6,1277.9 640.8,1277.9 642.0,1277.9 643.2,1277.9 644.4,1277.9 645.6,1277.9 646.8,1277.9 648.0,1277.9 649.2,1277.9 650.4,1277.9 651.6,1277.9 652.8,1277.9 654.0,1277.9 655.2,1277.9 656.4,1277.9 657.6,1277.9 658.8,1277.9 660.0,1277.9 661.2,1277.9 662.4,1277.9 663.6,1277.9 664.8,1277.9 666.0,1277.9 667.2,1277.9 668.4,1277.9 669.6,1277.9 670.8,1277.9 672.0,1277.9 673.2,1277.9 674.4,1277.9 675.6,1277.9 676.8,1277.9 678.0,1277.9 679.2,1277.9 680.4,1277.9 681.6,1277.9 682.8,1277.9 684.0,1277.9 685.2,1277.9 686.4,1277.9 687.6,1277.9 688.8,1277.9 690.0,1277.9 691.2,1277.9 692.4,1277.9 693.6,1277.9 694.8,1277.9 696.0,1277.9 697.2,1277.9 698.4,1277.9 699.6,1277.9 700.8,1277.9 702.0,1277.9 703.2,1277.9 704.4,1277.9 705.6,1277.9 706.8,1277.9 708.0,1277.9 709.2,1277.9 710.4,1277.9 711.6,1277.9 712.8,1277.9 714.0,1277.9 715.2,1277.9 716.4,1277.9 717.6,1277.9 718.8,1277.9 720.0,1277.9 721.2,1277.9 722.4,1277.9 723.6,1277.9 724.8,1277.9 726.0,1277.9 727.2,1277.9 728.4,1277.9 729.6,1277.9 730.8,1277.9 732.0,1277.9 733.2,1277.9 734.4,1277.9 735.6,1277.9 736.8,1277.8 738.0,1277.8 739.2,1277.8 740.4,1277.8 741.6,1277.8 742.8,1277.8 744.0,1277.8 745.2,1277.8 746.4,1277.8 747.6,1277.8 748.8,1277.8 750.0,1277.8 751.2,1277.8 752.4,1277.8 753.6,1277.8 754.8,1277.8 756.0,1277.8 757.2,1277.8 758.4,1277.8 759.6,1277.8 760.8,1277.8 762.0,1277.8 763.2,1277.8 764.4,1277.8 765.6,1277.8 766.8,1277.8 768.0,1277.8 769.2,1277.8 770.4,1277.8 771.6,1277.8 772.8,1277.8 774.0,1277.8 775.2,1277.8 776.4,1277.8 777.6,1277.8 778.8,1277.8 780.0,1277.8 781.2,1277.8 782.4,1277.8 783.6,1277.8 784.8,1277.8 786.0,1277.8 787.2,1277.8 788.4,1277.8 789.6,1277.8 790.8,1277.8 792.0,1277.8 793.2,1277.8 794.4,1277.8 795.6,1277.8 796.8,1277.8 798.0,1277.8 799.2,1277.8 800.4,1277.8 801.6,1277.8 802.8,1277.8 804.0,1277.8 805.2,1277.8 806.4,1277.8 807.6,1277.8 808.8,1277.8 810.0,1277.8 811.3,1277.8 812.5,1277.8 813.7,1277.8 814.9,1277.8 816.1,1277.9 817.3,1277.9 818.5,1277.9 819.7,1277.9 820.9,1277.9 822.1,1277.9 823.3,1277.9 824.5,1277.9 825.7,1277.9 826.9,1277.9 828.1,1277.9 829.3,1277.9 830.5,1277.9 831.7,1277.9 832.9,1277.9 834.1,1277.9 835.3,1277.9 836.5,1277.9 837.7,1277.9 838.9,1277.9 840.1,1277.9 841.3,1277.9 842.5,1278.0 843.7,1278.0 844.9,1278.0 846.1,1278.0 847.3,1278.0 848.5,1278.0 849.7,1278.0 850.9,1278.0 852.1,1278.0 853.3,1278.0 854.5,1278.0 855.7,1277.9" fill="none" stroke="#000" stroke-width="2.1" stroke-linejoin="round" stroke-dasharray="7.2 6.2"/>
<path d="M117.0,1304.0 207.0,982.5 L207.0,982.5 207.3,981.3 207.8,980.3 208.6,979.3 209.4,978.4 210.4,977.6 211.4,977.0 212.5,976.5 213.6,976.0 214.8,975.7 216.0,975.4 217.2,975.2 218.4,975.0 219.6,974.9 220.8,974.8 222.0,974.7 223.2,974.6 224.4,974.5 225.7,974.4 226.9,974.3 228.1,974.2 229.3,974.0 230.6,973.8 L230.6,973.8 858.3,861.2" fill="none" stroke="#000" stroke-width="2.1" stroke-linejoin="round" stroke-dasharray="9.3 4.9 2.3 5.1"/>
<line x1="231.4" y1="748.5" x2="231.4" y2="1314" stroke="#000" stroke-width="2.2" stroke-dasharray="2.6 5.5"/>
<text x="199.2" y="770.7" font-size="27.4" text-anchor="start">Ar</text>
<text x="240.6" y="771" font-size="27.4" text-anchor="start">CO</text>
<text x="281" y="782" font-size="16" text-anchor="start">2</text>
<line x1="491.5" y1="776.6" x2="552.7" y2="776.6" stroke="#000" stroke-width="2"/>
<line x1="491.5" y1="809.9" x2="539.5" y2="809.9" stroke="#000" stroke-width="2" stroke-dasharray="7.2 6.2"/>
<text x="558.9" y="786.4" font-size="27.4" text-anchor="start">Ffos-y-Fran</text>
<text x="558.9" y="819.5" font-size="27.26" text-anchor="start">Ffos-y-Fran + Facemask</text>
<g stroke="#000" stroke-linecap="square" fill="none">
<rect x="1140.9" y="747.1" width="764" height="568.2" stroke-width="2" stroke-linecap="butt"/>
<line x1="1140.9" y1="1315.3" x2="1140.9" y2="1327.3" stroke-width="2" stroke-linecap="butt"/>
<line x1="1250.04" y1="1315.3" x2="1250.04" y2="1327.3" stroke-width="2" stroke-linecap="butt"/>
<line x1="1359.19" y1="1315.3" x2="1359.19" y2="1327.3" stroke-width="2" stroke-linecap="butt"/>
<line x1="1468.33" y1="1315.3" x2="1468.33" y2="1327.3" stroke-width="2" stroke-linecap="butt"/>
<line x1="1577.47" y1="1315.3" x2="1577.47" y2="1327.3" stroke-width="2" stroke-linecap="butt"/>
<line x1="1686.61" y1="1315.3" x2="1686.61" y2="1327.3" stroke-width="2" stroke-linecap="butt"/>
<line x1="1795.76" y1="1315.3" x2="1795.76" y2="1327.3" stroke-width="2" stroke-linecap="butt"/>
<line x1="1904.9" y1="1315.3" x2="1904.9" y2="1327.3" stroke-width="2" stroke-linecap="butt"/>
<line x1="1195.47" y1="1315.3" x2="1195.47" y2="1321.8" stroke-width="2" stroke-linecap="butt"/>
<line x1="1304.61" y1="1315.3" x2="1304.61" y2="1321.8" stroke-width="2" stroke-linecap="butt"/>
<line x1="1413.76" y1="1315.3" x2="1413.76" y2="1321.8" stroke-width="2" stroke-linecap="butt"/>
<line x1="1522.9" y1="1315.3" x2="1522.9" y2="1321.8" stroke-width="2" stroke-linecap="butt"/>
<line x1="1632.04" y1="1315.3" x2="1632.04" y2="1321.8" stroke-width="2" stroke-linecap="butt"/>
<line x1="1741.19" y1="1315.3" x2="1741.19" y2="1321.8" stroke-width="2" stroke-linecap="butt"/>
<line x1="1850.33" y1="1315.3" x2="1850.33" y2="1321.8" stroke-width="2" stroke-linecap="butt"/>
<line x1="1128.9" y1="1315.3" x2="1140.9" y2="1315.3" stroke-width="2" stroke-linecap="butt"/>
<line x1="1128.9" y1="1201.66" x2="1140.9" y2="1201.66" stroke-width="2" stroke-linecap="butt"/>
<line x1="1128.9" y1="1088.02" x2="1140.9" y2="1088.02" stroke-width="2" stroke-linecap="butt"/>
<line x1="1128.9" y1="974.38" x2="1140.9" y2="974.38" stroke-width="2" stroke-linecap="butt"/>
<line x1="1128.9" y1="860.74" x2="1140.9" y2="860.74" stroke-width="2" stroke-linecap="butt"/>
<line x1="1128.9" y1="747.1" x2="1140.9" y2="747.1" stroke-width="2" stroke-linecap="butt"/>
<line x1="1134.4" y1="1258.48" x2="1140.9" y2="1258.48" stroke-width="2" stroke-linecap="butt"/>
<line x1="1134.4" y1="1144.84" x2="1140.9" y2="1144.84" stroke-width="2" stroke-linecap="butt"/>
<line x1="1134.4" y1="1031.2" x2="1140.9" y2="1031.2" stroke-width="2" stroke-linecap="butt"/>
<line x1="1134.4" y1="917.56" x2="1140.9" y2="917.56" stroke-width="2" stroke-linecap="butt"/>
<line x1="1134.4" y1="803.92" x2="1140.9" y2="803.92" stroke-width="2" stroke-linecap="butt"/>
<line x1="1892.9" y1="1125.9" x2="1904.9" y2="1125.9" stroke-width="2" stroke-linecap="butt"/>
<line x1="1892.9" y1="936.5" x2="1904.9" y2="936.5" stroke-width="2" stroke-linecap="butt"/>
<line x1="1898.4" y1="1220.6" x2="1904.9" y2="1220.6" stroke-width="2" stroke-linecap="butt"/>
<line x1="1898.4" y1="1031.2" x2="1904.9" y2="1031.2" stroke-width="2" stroke-linecap="butt"/>
<line x1="1898.4" y1="841.8" x2="1904.9" y2="841.8" stroke-width="2" stroke-linecap="butt"/>
</g>
<text transform="translate(1140.9,1351.4) scale(1,1.1)" font-size="22.3" text-anchor="middle">0</text>
<text transform="translate(1250.04,1351.4) scale(1,1.1)" font-size="22.3" text-anchor="middle">50</text>
<text transform="translate(1359.19,1351.4) scale(1,1.1)" font-size="22.3" text-anchor="middle">100</text>
<text transform="translate(1468.33,1351.4) scale(1,1.1)" font-size="22.3" text-anchor="middle">150</text>
<text transform="translate(1577.47,1351.4) scale(1,1.1)" font-size="22.3" text-anchor="middle">200</text>
<text transform="translate(1686.61,1351.4) scale(1,1.1)" font-size="22.3" text-anchor="middle">250</text>
<text transform="translate(1795.76,1351.4) scale(1,1.1)" font-size="22.3" text-anchor="middle">300</text>
<text transform="translate(1904.9,1351.4) scale(1,1.1)" font-size="22.3" text-anchor="middle">350</text>
<text transform="translate(1122.3,1321.1) scale(1,1.1)" font-size="22.3" text-anchor="end">0</text>
<text transform="translate(1122.3,1207.46) scale(1,1.1)" font-size="22.3" text-anchor="end">20</text>
<text transform="translate(1122.3,1093.82) scale(1,1.1)" font-size="22.3" text-anchor="end">40</text>
<text transform="translate(1122.3,980.18) scale(1,1.1)" font-size="22.3" text-anchor="end">60</text>
<text transform="translate(1122.3,866.54) scale(1,1.1)" font-size="22.3" text-anchor="end">80</text>
<text transform="translate(1122.3,752.9) scale(1,1.1)" font-size="22.3" text-anchor="end">100</text>
<text transform="translate(1916.9,1321.1) scale(1,1.1)" font-size="22.3" text-anchor="start">0</text>
<text transform="translate(1916.9,1131.7) scale(1,1.1)" font-size="22.3" text-anchor="start">500</text>
<text transform="translate(1916.9,942.3) scale(1,1.1)" font-size="22.3" text-anchor="start">1000</text>
<text transform="translate(1916.9,752.9) scale(1,1.1)" font-size="22.3" text-anchor="start">1500</text>
<text x="1458" y="1394.5" font-size="27.37" text-anchor="start">Time (min)</text>
<text transform="translate(1057.2,1101.8) rotate(-90)" font-size="27.07">Weight (%)</text>
<text transform="translate(1998.8,1154.3) rotate(-90)" font-size="27.17">Temperature (°C)</text>
<text x="1027.3" y="742.2" font-size="32" text-anchor="start">(d)</text>
<path d="M1141.5,747.4 1142.5,748.2 1143.1,749.3 1143.6,750.4 1144.0,751.5 1144.5,752.6 1144.8,753.7 1145.2,754.9 1145.5,756.1 1145.8,757.2 1146.1,758.4 1146.4,759.5 1146.8,760.7 1147.1,761.9 1147.5,763.0 1147.8,764.2 1148.3,765.3 1148.8,766.4 1149.3,767.5 1149.9,768.5 1150.6,769.5 1151.3,770.4 1152.2,771.3 1153.1,772.1 1154.0,772.8 1155.0,773.5 1156.1,774.1 1157.2,774.6 1158.3,775.1 1159.4,775.6 1160.5,776.1 1161.6,776.5 1162.7,777.0 1163.8,777.4 1164.9,777.9 1166.0,778.4 1167.1,778.9 1168.2,779.4 1169.2,780.1 1170.2,780.8 1171.2,781.5 1172.1,782.3 1173.0,783.1 1173.8,783.9 1174.7,784.8 1175.5,785.7 1176.3,786.6 1177.1,787.5 1177.8,788.4 1178.6,789.3 1179.4,790.3 1180.2,791.2 1180.9,792.1 1181.7,793.0 1182.5,793.9 1183.3,794.9 1184.0,795.8 1184.8,796.7 1185.5,797.7 1186.3,798.6 1187.0,799.6 1187.7,800.6 1188.4,801.6 1189.1,802.6 1189.7,803.6 1190.3,804.6 1191.0,805.6 1191.6,806.7 1192.1,807.7 1192.7,808.8 1193.3,809.9 1193.8,810.9 1194.4,812.0 1194.9,813.1 1195.4,814.2 1195.9,815.3 1196.5,816.3 1197.0,817.4 1197.5,818.5 1198.0,819.6 1198.5,820.7 1199.1,821.8 1199.6,822.9 1200.1,823.9 1200.7,825.0 1201.2,826.1 1201.8,827.1 1202.4,828.2 1202.9,829.3 1203.5,830.3 1204.1,831.4 1204.7,832.4 1205.3,833.5 1205.9,834.5 1206.5,835.5 1207.1,836.6 1207.7,837.6 1208.3,838.7 1208.9,839.7 1209.5,840.8 1210.0,841.9 1210.6,842.9 1211.1,844.0 1211.7,845.1 1212.2,846.2 1212.7,847.3 1213.2,848.4 1213.6,849.5 1214.1,850.6 1214.5,851.7 1214.9,852.9 1215.3,854.0 1215.6,855.2 1216.0,856.3 1216.3,857.5 1216.6,858.6 1217.0,859.8 1217.3,861.0 1217.6,862.1 1217.9,863.3 1218.2,864.4 1218.6,865.6 1218.9,866.8 1219.2,867.9 1219.6,869.1 1220.0,870.2 1220.4,871.4 1220.8,872.5 1221.2,873.6 1221.7,874.7 1222.2,875.8 1222.7,876.9 1223.2,878.0 1223.8,879.0 1224.5,880.0 1225.1,881.0 1225.8,882.0 1226.6,883.0 1227.4,883.9 1228.2,884.8 1229.0,885.6 1229.9,886.4 1230.9,887.2 1231.8,887.9 1232.8,888.6 1233.8,889.3 1234.8,889.9 1235.9,890.5 1237.0,891.0 1238.1,891.6 1239.2,892.1 1240.3,892.5 1241.4,893.0 1242.5,893.4 1243.7,893.7 1244.8,894.1 1246.0,894.4 1247.1,894.8 1248.3,895.0 1249.5,895.3 1250.6,895.6 1251.8,895.8 1253.0,896.1 1254.2,896.3 1255.4,896.5 1256.6,896.7 1257.7,896.9 1258.9,897.2 1260.1,897.4 1261.3,897.6 L1261.3,897.6 1262.5,898.2 1263.1,899.2 1263.7,900.3 1264.3,901.3 1264.9,902.4 1265.4,903.5 1265.9,904.5 1266.4,905.6 1266.9,906.7 1267.4,907.8 1267.9,908.9 1268.4,910.0 1268.8,911.1 1269.2,912.3 1269.7,913.4 1270.1,914.5 1270.5,915.6 1270.8,916.8 1271.2,917.9 1271.6,919.1 1271.9,920.2 1272.3,921.3 1272.6,922.5 1273.0,923.7 1273.3,924.8 1273.6,926.0 1273.9,927.1 1274.2,928.3 1274.5,929.4 1274.8,930.6 1275.1,931.8 1275.4,932.9 1275.6,934.1 1275.9,935.3 1276.2,936.5 1276.5,937.6 1276.7,938.8 1277.0,940.0 1277.3,941.1 1277.5,942.3 1277.8,943.5 1278.0,944.6 1278.3,945.8 1278.6,947.0 1278.8,948.2 1279.1,949.3 1279.3,950.5 1279.6,951.7 1279.8,952.8 1280.1,954.0 1280.4,955.2 1280.6,956.4 1280.9,957.5 1281.1,958.7 1281.4,959.9 1281.6,961.1 1281.9,962.2 1282.1,963.4 1282.4,964.6 1282.7,965.7 1282.9,966.9 1283.2,968.1 1283.4,969.3 1283.7,970.4 1283.9,971.6 1284.2,972.8 1284.4,974.0 1284.7,975.1 1284.9,976.3 1285.2,977.5 1285.4,978.7 1285.7,979.8 1285.9,981.0 1286.2,982.2 1286.4,983.4 1286.6,984.5 1286.9,985.7 1287.1,986.9 1287.4,988.1 1287.6,989.2 1287.9,990.4 1288.1,991.6 1288.3,992.8 1288.6,993.9 1288.8,995.1 1289.0,996.3 1289.3,997.5 1289.5,998.6 1289.7,999.8 1290.0,1001.0 1290.2,1002.2 1290.4,1003.3 1290.7,1004.5 1290.9,1005.7 1291.1,1006.9 1291.4,1008.1 1291.6,1009.2 1291.8,1010.4 1292.0,1011.6 1292.3,1012.8 1292.5,1014.0 1292.7,1015.1 1293.0,1016.3 1293.2,1017.5 1293.4,1018.7 1293.6,1019.8 1293.8,1021.0 1294.1,1022.2 1294.3,1023.4 1294.5,1024.6 1294.7,1025.7 1295.0,1026.9 1295.2,1028.1 1295.4,1029.3 1295.6,1030.5 1295.8,1031.6 1296.1,1032.8 1296.3,1034.0 1296.5,1035.2 1296.7,1036.4 1296.9,1037.5 1297.2,1038.7 1297.4,1039.9 1297.6,1041.1 1297.8,1042.3 1298.0,1043.4 1298.2,1044.6 1298.5,1045.8 1298.7,1047.0 1298.9,1048.2 1299.1,1049.3 1299.3,1050.5 1299.6,1051.7 1299.8,1052.9 1300.0,1054.1 1300.2,1055.2 1300.4,1056.4 1300.7,1057.6 1300.9,1058.8 1301.1,1060.0 1301.3,1061.1 1301.5,1062.3 1301.7,1063.5 1302.0,1064.7 1302.2,1065.9 1302.4,1067.0 1302.6,1068.2 1302.9,1069.4 1303.1,1070.6 1303.3,1071.8 1303.5,1072.9 1303.7,1074.1 1304.0,1075.3 1304.2,1076.5 1304.4,1077.6 1304.6,1078.8 1304.9,1080.0 1305.1,1081.2 1305.3,1082.4 1305.5,1083.5 1305.8,1084.7 1306.0,1085.9 1306.2,1087.1 1306.5,1088.3 1306.7,1089.4 1306.9,1090.6 1307.2,1091.8 1307.4,1093.0 1307.6,1094.1 1307.9,1095.3 1308.1,1096.5 1308.3,1097.7 1308.6,1098.8 1308.8,1100.0 1309.0,1101.2 1309.3,1102.4 1309.5,1103.6 1309.8,1104.7 1310.0,1105.9 1310.2,1107.1 1310.5,1108.3 1310.7,1109.4 1311.0,1110.6 1311.2,1111.8 1311.5,1113.0 1311.7,1114.1 1312.0,1115.3 1312.2,1116.5 1312.5,1117.6 1312.7,1118.8 1313.0,1120.0 1313.2,1121.2 1313.5,1122.3 1313.7,1123.5 1314.0,1124.7 1314.2,1125.9 1314.5,1127.0 1314.7,1128.2 1315.0,1129.4 1315.2,1130.6 1315.5,1131.7 1315.7,1132.9 1316.0,1134.1 1316.2,1135.2 1316.5,1136.4 1316.7,1137.6 1317.0,1138.8 1317.2,1139.9 1317.5,1141.1 1317.7,1142.3 1318.0,1143.5 1318.2,1144.6 1318.5,1145.8 1318.8,1147.0 1319.0,1148.2 1319.3,1149.3 1319.5,1150.5 1319.8,1151.7 1320.0,1152.8 1320.3,1154.0 1320.5,1155.2 1320.8,1156.4 1321.0,1157.5 1321.3,1158.7 1321.5,1159.9 1321.8,1161.1 1322.0,1162.2 1322.3,1163.4 1322.6,1164.6 1322.9,1165.7 1323.1,1166.9 1323.4,1168.1 1323.8,1169.2 1324.1,1170.4 1324.4,1171.5 1324.7,1172.7 1325.1,1173.8 1325.4,1175.0 1325.8,1176.1 1326.2,1177.3 1326.6,1178.4 1327.0,1179.5 1327.5,1180.6 1327.9,1181.7 1328.4,1182.8 1328.9,1183.9 1329.5,1185.0 1330.0,1186.1 1330.6,1187.1 1331.2,1188.2 1331.8,1189.2 1332.5,1190.2 1333.2,1191.1 1334.0,1192.1 1334.8,1193.0 1335.6,1193.8 1336.5,1194.6 1337.4,1195.4 1338.4,1196.1 1339.4,1196.8 1340.4,1197.3 1341.5,1197.8 1342.6,1198.3 1343.8,1198.7 1344.9,1199.0 1346.1,1199.3 1347.3,1199.5 1348.4,1199.7 1349.6,1199.9 1350.8,1200.0 1352.0,1200.1 1353.2,1200.1 1354.4,1200.2 1355.6,1200.2 1356.8,1200.2 1358.0,1200.2 1359.2,1200.2 1360.4,1200.2 1361.6,1200.1 1362.8,1200.1 1364.0,1200.0 1365.2,1200.0 1366.4,1199.9 1367.6,1199.9 1368.8,1199.9 1370.0,1199.8 1371.2,1199.8 1372.4,1199.8 1373.6,1199.7 1374.8,1199.7 1376.0,1199.7 1377.2,1199.7 1378.4,1199.7 1379.6,1199.7 1380.8,1199.7 1382.0,1199.7 1383.2,1199.7 1384.4,1199.7 1385.6,1199.7 1386.8,1199.7 1388.0,1199.7 1389.2,1199.7 1390.4,1199.7 1391.6,1199.7 1392.8,1199.7 1394.0,1199.8 1395.2,1199.8 1396.4,1199.8 1397.6,1199.8 1398.8,1199.8 1400.0,1199.8 1401.2,1199.8 1402.4,1199.8 1403.6,1199.8 1404.8,1199.9 1406.0,1199.9 1407.2,1199.9 1408.4,1199.9 1409.6,1199.9 1410.8,1199.9 1412.0,1199.9 1413.2,1199.9 1414.4,1199.9 1415.6,1199.9 1416.8,1199.9 1418.0,1199.9 1419.2,1199.9 1420.4,1199.9 1421.6,1199.9 1422.8,1199.9 1424.0,1199.9 1425.2,1199.9 1426.4,1199.9 1427.6,1199.9 1428.8,1199.9 1430.0,1199.9 1431.2,1199.9 1432.4,1199.9 1433.6,1199.9 1434.8,1199.9 1436.0,1199.9 1437.2,1199.9 1438.4,1199.9 1439.6,1199.9 1440.8,1199.9 1442.0,1199.9 1443.2,1199.9 1444.4,1199.9 1445.6,1199.9 1446.8,1199.9 1448.0,1199.9 1449.2,1199.9 1450.4,1199.9 1451.6,1199.9 1452.8,1199.9 1454.0,1199.9 1455.2,1199.9 1456.4,1199.9 1457.6,1199.9 1458.8,1199.9 1460.0,1199.9 1461.2,1199.9 1462.4,1199.9 1463.6,1199.9 1464.8,1199.9 1466.0,1199.9 1467.2,1199.9 1468.4,1199.9 1469.6,1199.9 1470.8,1199.9 1472.0,1199.9 1473.2,1199.9 1474.4,1199.9 1475.6,1199.9 1476.8,1199.9 1478.0,1199.9 1479.2,1199.9 1480.4,1199.9 1481.6,1199.9 1482.8,1199.9 1484.0,1199.9 1485.2,1199.9 1486.4,1199.9 1487.6,1199.9 1488.8,1199.9 1490.0,1199.9 1491.2,1199.9 1492.4,1199.9 1493.6,1199.9 1494.8,1199.9 1496.0,1199.9 1497.2,1199.9 1498.4,1199.9 1499.6,1199.9 1500.8,1199.9 1502.0,1199.9 1503.2,1199.9 1504.4,1199.9 1505.6,1199.9 1506.8,1199.9 1508.0,1199.9 1509.2,1199.9 1510.4,1199.9 1511.6,1199.9 1512.8,1199.9 1514.0,1199.9 1515.2,1199.9 1516.4,1199.9 1517.6,1199.9 1518.8,1199.9 1520.0,1199.9 1521.2,1199.9 1522.4,1199.9 1523.6,1199.9 1524.8,1199.9 1526.0,1199.9 1527.2,1199.9 1528.4,1199.9 1529.6,1199.9 1530.8,1199.9 1532.0,1199.9 1533.2,1199.9 1534.4,1199.9 1535.6,1199.9 1536.8,1199.9 1538.0,1199.9 1539.2,1199.9 1540.4,1199.9 1541.6,1199.9 1542.8,1199.9 1544.0,1199.9 1545.2,1199.9 1546.4,1199.9 1547.6,1199.9 1548.8,1199.9 1550.0,1199.9 1551.2,1199.9 1552.4,1199.9 1553.6,1199.9 1554.8,1199.9 1556.0,1199.9 1557.2,1199.9 1558.4,1199.9 1559.6,1199.9 1560.8,1199.9 1562.0,1199.9 1563.2,1199.9 1564.4,1199.9 1565.6,1199.9 1566.8,1199.9 1568.0,1199.9 1569.2,1199.9 1570.4,1199.9 1571.6,1199.9 1572.8,1199.9 1574.0,1199.9 1575.2,1199.9 1576.4,1199.9 1577.6,1199.9 1578.8,1199.9 1580.0,1199.9 1581.2,1199.9 1582.4,1199.9 1583.6,1199.9 1584.8,1199.9 1586.0,1199.9 1587.2,1199.9 1588.4,1199.9 1589.6,1199.9 1590.8,1199.9 1592.0,1199.9 1593.2,1199.9 1594.4,1199.9 1595.6,1199.9 1596.8,1199.9 1598.0,1199.9 1599.2,1199.9 1600.4,1199.9 1601.6,1199.9 1602.8,1199.9 1604.0,1199.9 1605.2,1199.9 1606.4,1199.9 1607.6,1199.9 1608.8,1199.9 1610.0,1199.9 1611.2,1199.9 1612.4,1199.9 1613.6,1199.9 1614.8,1199.9 1616.0,1199.9 1617.2,1199.9 1618.4,1199.9 1619.6,1199.9 1620.8,1199.9 1622.0,1199.9 1623.2,1199.9 1624.4,1199.9 1625.6,1199.9 1626.8,1199.9 1628.0,1199.9 1629.2,1199.9 1630.4,1199.9 1631.6,1199.9 1632.8,1199.9 1634.0,1199.9 1635.2,1199.9 1636.4,1199.9 1637.6,1199.9 1638.8,1199.9 1640.0,1199.9 1641.2,1199.9 1642.4,1199.9 1643.6,1199.9 1644.8,1199.9 1646.0,1199.9 1647.2,1199.9 1648.4,1199.9 1649.6,1199.9 1650.8,1199.9 1652.0,1199.9 1653.2,1199.9 1654.4,1199.9 1655.6,1199.9 1656.8,1199.9 1658.0,1199.9 1659.2,1199.9 1660.4,1199.9 1661.6,1199.9 1662.8,1199.9 1664.0,1199.9 1665.2,1199.9 1666.4,1199.9 1667.6,1199.9 1668.8,1199.9 1670.0,1199.9 1671.2,1199.9 1672.4,1199.9 1673.6,1199.9 1674.8,1199.9 1676.0,1199.9 1677.2,1199.9 1678.4,1199.9 1679.6,1199.9 1680.8,1199.9 1682.0,1199.9 1683.2,1199.9 1684.4,1199.9 1685.6,1199.9 1686.8,1199.9 1688.0,1199.9 1689.2,1199.9 1690.4,1199.9 1691.6,1199.9 1692.8,1199.9 1694.0,1199.9 1695.2,1199.9 1696.4,1199.9 1697.6,1199.9 1698.8,1199.9 1700.0,1199.9 1701.2,1199.9 1702.4,1199.9 1703.6,1199.9 1704.8,1199.9 1706.0,1199.9 1707.2,1199.9 1708.4,1199.9 1709.6,1199.9 1710.8,1199.9 1712.0,1199.9 1713.2,1199.9 1714.4,1199.9 1715.6,1199.9 1716.8,1199.9 1718.0,1199.9 1719.2,1199.9 1720.4,1199.9 1721.6,1199.9 1722.8,1199.9 1724.0,1199.9 1725.2,1199.9 1726.4,1199.9 1727.6,1199.9 1728.8,1199.9 1730.0,1199.9 1731.2,1199.9 1732.4,1199.9 1733.6,1199.9 1734.8,1199.9 1736.0,1199.9 1737.2,1199.9 1738.4,1199.9 1739.6,1199.9 1740.8,1199.9 1742.0,1199.9 1743.2,1199.9 1744.4,1199.9 1745.6,1199.9 1746.8,1199.9 1748.0,1199.9 1749.2,1199.9 1750.4,1199.9 1751.6,1199.9 1752.8,1199.9 1754.0,1199.9 1755.2,1199.9 1756.4,1199.9 1757.6,1199.9 1758.8,1199.9 1760.0,1199.9 1761.2,1199.9 1762.4,1199.9 1763.6,1199.9 1764.8,1199.9 1766.0,1199.9 1767.2,1199.9 1768.4,1199.9 1769.6,1199.9 1770.8,1199.9 1772.0,1199.9 1773.2,1199.9 1774.4,1199.9 1775.6,1199.9 1776.8,1199.9 1778.0,1199.9 1779.2,1199.9 1780.4,1199.9 1781.6,1199.9 1782.8,1199.9 1784.0,1199.9 1785.2,1199.9 1786.4,1199.9 1787.6,1199.9 1788.8,1199.9 1790.0,1199.9 1791.2,1199.9 1792.4,1199.9 1793.6,1199.9 1794.8,1199.9 1796.0,1199.9 1797.2,1199.9 1798.4,1199.9 1799.6,1199.9 1800.8,1199.9 1802.0,1199.9 1803.2,1199.9 1804.4,1199.9 1805.6,1199.9 1806.8,1199.9 1808.0,1199.9 1809.2,1199.9 1810.4,1199.9 1811.6,1199.9 1812.8,1199.9 1814.0,1199.9 1815.2,1199.9 1816.4,1199.9 1817.6,1199.9 1818.8,1199.9 1820.0,1199.9 1821.2,1199.9 1822.4,1199.9 1823.6,1199.9 1824.8,1199.9 1826.0,1199.9 1827.2,1199.9 1828.4,1199.9 1829.6,1199.9 1830.8,1199.9 1832.0,1199.9 1833.2,1199.9 1834.4,1199.9 1835.6,1199.9 1836.8,1199.9 1838.0,1199.9 1839.2,1199.9 1840.4,1199.9 1841.6,1199.9 1842.8,1199.9 1844.0,1199.9 1845.2,1199.9 1846.4,1199.9 1847.6,1199.9 1848.8,1199.9 1850.0,1199.9 1851.2,1199.9 1852.4,1199.9 1853.6,1199.9 1854.8,1199.9 1856.0,1199.9 1857.2,1199.9 1858.4,1199.9 1859.6,1199.9 1860.8,1199.9 1862.0,1199.9 1863.2,1199.9 1864.4,1199.9 1865.6,1199.9 1866.8,1199.9 1868.0,1199.9 1869.2,1199.9 1870.4,1199.9 1871.6,1199.9 1872.8,1199.9 1874.0,1199.9 1875.2,1199.9 1876.4,1199.9 1877.6,1199.9 1878.8,1199.9 1880.0,1199.9 1881.2,1199.9 1882.4,1199.9 1883.6,1199.9 1884.8,1199.9 1886.0,1199.9 1887.2,1199.9 1888.4,1199.9 1889.6,1199.9 1890.8,1199.9 1892.0,1199.9 1893.2,1199.9 1894.4,1199.9 1895.6,1199.9 1896.8,1199.9 1898.0,1199.9 1899.2,1199.9 1900.4,1199.9 1901.6,1199.9 1902.8,1199.9 1904.0,1199.9" fill="none" stroke="#000" stroke-width="2.1" stroke-linejoin="round"/>
<path d="M1142.7,747.9 1143.2,748.9 1143.6,750.0 1144.2,751.1 1144.8,752.1 1145.5,753.1 1146.2,754.1 1147.0,755.0 1147.8,755.8 1148.7,756.6 1149.6,757.4 1150.6,758.1 1151.6,758.9 1152.6,759.5 1153.6,760.2 1154.6,760.8 1155.6,761.4 1156.6,762.1 1157.7,762.7 1158.7,763.3 1159.7,763.9 1160.7,764.5 1161.7,765.2 1162.7,765.9 1163.7,766.6 1164.7,767.3 1165.6,768.0 1166.5,768.8 1167.4,769.6 1168.3,770.4 1169.2,771.3 1170.0,772.2 1170.7,773.1 1171.5,774.0 1172.2,775.0 1172.9,776.0 1173.5,777.0 1174.2,778.0 1174.8,779.0 1175.4,780.1 1176.0,781.1 1176.6,782.2 1177.1,783.2 1177.7,784.3 1178.3,785.3 1178.8,786.4 1179.4,787.4 1180.0,788.5 1180.5,789.6 1181.1,790.6 1181.6,791.7 1182.2,792.8 1182.7,793.8 1183.2,794.9 1183.8,796.0 1184.3,797.1 1184.9,798.1 1185.4,799.2 1185.9,800.3 1186.5,801.4 1187.0,802.4 1187.5,803.5 1188.0,804.6 1188.6,805.7 1189.1,806.8 1189.6,807.8 1190.1,808.9 1190.7,810.0 1191.2,811.1 1191.7,812.2 1192.2,813.2 1192.7,814.3 1193.3,815.4 1193.8,816.5 1194.3,817.6 1194.8,818.7 1195.3,819.7 1195.8,820.8 1196.4,821.9 1196.9,823.0 1197.4,824.1 1197.9,825.2 1198.4,826.2 1199.0,827.3 1199.5,828.4 1200.0,829.5 1200.5,830.6 1201.0,831.6 1201.6,832.7 1202.1,833.8 1202.6,834.9 1203.1,836.0 1203.7,837.0 1204.2,838.1 1204.7,839.2 1205.3,840.3 1205.8,841.4 1206.3,842.4 1206.8,843.5 1207.4,844.6 1207.9,845.7 1208.4,846.7 1209.0,847.8 1209.5,848.9 1210.0,850.0 1210.5,851.0 1211.1,852.1 1211.6,853.2 1212.1,854.3 1212.7,855.4 1213.2,856.4 1213.7,857.5 1214.2,858.6 1214.7,859.7 1215.2,860.8 1215.7,861.9 1216.2,863.0 1216.6,864.1 1217.1,865.2 1217.5,866.3 1217.9,867.5 1218.3,868.6 1218.7,869.7 1219.0,870.9 1219.4,872.0 1219.7,873.2 1220.1,874.3 1220.4,875.5 1220.8,876.6 1221.2,877.8 1221.5,878.9 1221.9,880.0 1222.3,881.2 1222.8,882.3 1223.2,883.4 1223.7,884.5 1224.2,885.6 1224.7,886.7 1225.2,887.8 1225.8,888.8 1226.5,889.8 1227.1,890.8 1227.8,891.8 1228.6,892.7 1229.3,893.7 1230.1,894.5 1231.0,895.4 1231.9,896.2 1232.8,897.0 1233.7,897.8 1234.6,898.5 1235.6,899.2 1236.6,899.9 1237.6,900.6 1238.6,901.2 1239.6,901.8 1240.7,902.4 1241.8,903.0 1242.8,903.5 1243.9,904.0 1245.0,904.5 1246.1,905.0 1247.2,905.5 1248.3,906.0 1249.4,906.4 1250.5,906.9 1251.6,907.3 1252.8,907.7 1253.9,908.1 1255.0,908.6 1256.1,909.0 1257.3,909.4 1258.4,909.8 1259.5,910.2 1260.6,910.7 1261.9,911.1 L1261.9,911.1 1263.1,911.9 1263.5,913.1 1263.9,914.2 1264.3,915.3 1264.7,916.5 1265.1,917.6 1265.4,918.7 1265.8,919.9 1266.2,921.0 1266.6,922.2 1267.0,923.3 1267.3,924.4 1267.7,925.6 1268.1,926.7 1268.4,927.9 1268.8,929.0 1269.2,930.2 1269.5,931.3 1269.9,932.5 1270.2,933.6 1270.6,934.7 1270.9,935.9 1271.3,937.0 1271.6,938.2 1271.9,939.4 1272.3,940.5 1272.6,941.7 1272.9,942.8 1273.3,944.0 1273.6,945.1 1273.9,946.3 1274.2,947.4 1274.6,948.6 1274.9,949.8 1275.2,950.9 1275.5,952.1 1275.8,953.2 1276.1,954.4 1276.4,955.6 1276.7,956.7 1277.0,957.9 1277.3,959.0 1277.6,960.2 1277.9,961.4 1278.2,962.5 1278.5,963.7 1278.8,964.9 1279.1,966.0 1279.4,967.2 1279.6,968.4 1279.9,969.5 1280.2,970.7 1280.5,971.9 1280.8,973.0 1281.0,974.2 1281.3,975.4 1281.6,976.5 1281.9,977.7 1282.1,978.9 1282.4,980.1 1282.7,981.2 1282.9,982.4 1283.2,983.6 1283.4,984.7 1283.7,985.9 1284.0,987.1 1284.2,988.3 1284.5,989.4 1284.7,990.6 1285.0,991.8 1285.2,993.0 1285.5,994.1 1285.7,995.3 1286.0,996.5 1286.2,997.7 1286.5,998.8 1286.7,1000.0 1287.0,1001.2 1287.2,1002.4 1287.5,1003.5 1287.7,1004.7 1287.9,1005.9 1288.2,1007.1 1288.4,1008.3 1288.6,1009.4 1288.9,1010.6 1289.1,1011.8 1289.4,1013.0 1289.6,1014.1 1289.8,1015.3 1290.1,1016.5 1290.3,1017.7 1290.5,1018.9 1290.7,1020.0 1291.0,1021.2 1291.2,1022.4 1291.4,1023.6 1291.7,1024.7 1291.9,1025.9 1292.1,1027.1 1292.3,1028.3 1292.6,1029.5 1292.8,1030.6 1293.0,1031.8 1293.2,1033.0 1293.5,1034.2 1293.7,1035.4 1293.9,1036.5 1294.1,1037.7 1294.3,1038.9 1294.6,1040.1 1294.8,1041.3 1295.0,1042.5 1295.2,1043.6 1295.4,1044.8 1295.7,1046.0 1295.9,1047.2 1296.1,1048.4 1296.3,1049.5 1296.5,1050.7 1296.7,1051.9 1296.9,1053.1 1297.2,1054.3 1297.4,1055.4 1297.6,1056.6 1297.8,1057.8 1298.0,1059.0 1298.2,1060.2 1298.4,1061.4 1298.7,1062.5 1298.9,1063.7 1299.1,1064.9 1299.3,1066.1 1299.5,1067.3 1299.7,1068.4 1299.9,1069.6 1300.1,1070.8 1300.3,1072.0 1300.6,1073.2 1300.8,1074.4 1301.0,1075.5 1301.2,1076.7 1301.4,1077.9 1301.6,1079.1 1301.8,1080.3 1302.0,1081.5 1302.2,1082.6 1302.4,1083.8 1302.6,1085.0 1302.9,1086.2 1303.1,1087.4 1303.3,1088.6 1303.5,1089.7 1303.7,1090.9 1303.9,1092.1 1304.1,1093.3 1304.3,1094.5 1304.5,1095.6 1304.7,1096.8 1304.9,1098.0 1305.2,1099.2 1305.4,1100.4 1305.6,1101.6 1305.8,1102.7 1306.0,1103.9 1306.2,1105.1 1306.4,1106.3 1306.6,1107.5 1306.8,1108.7 1307.0,1109.8 1307.3,1111.0 1307.5,1112.2 1307.7,1113.4 1307.9,1114.6 1308.1,1115.8 1308.3,1116.9 1308.5,1118.1 1308.7,1119.3 1309.0,1120.5 1309.2,1121.7 1309.4,1122.8 1309.6,1124.0 1309.9,1125.2 1310.1,1126.4 1310.3,1127.6 1310.5,1128.7 1310.8,1129.9 1311.0,1131.1 1311.3,1132.3 1311.5,1133.4 1311.8,1134.6 1312.0,1135.8 1312.3,1137.0 1312.5,1138.1 1312.8,1139.3 1313.1,1140.5 1313.3,1141.6 1313.6,1142.8 1313.9,1144.0 1314.2,1145.1 1314.5,1146.3 1314.8,1147.5 1315.1,1148.6 1315.4,1149.8 1315.7,1151.0 1316.1,1152.1 1316.4,1153.3 1316.7,1154.4 1317.1,1155.6 1317.4,1156.7 1317.8,1157.9 1318.1,1159.0 1318.5,1160.1 1318.9,1161.3 1319.3,1162.4 1319.7,1163.6 1320.1,1164.7 1320.5,1165.8 1320.9,1166.9 1321.3,1168.1 1321.8,1169.2 1322.2,1170.3 1322.7,1171.4 1323.3,1172.5 1323.8,1173.5 1324.4,1174.6 1325.0,1175.6 1325.6,1176.6 1326.3,1177.6 1327.1,1178.6 1327.9,1179.5 1328.7,1180.3 1329.6,1181.1 1330.6,1181.8 1331.6,1182.5 1332.6,1183.1 1333.7,1183.5 1334.9,1184.0 1336.0,1184.3 1337.2,1184.6 1338.3,1184.9 1339.5,1185.1 1340.7,1185.3 1341.9,1185.4 1343.1,1185.5 1344.3,1185.6 1345.5,1185.7 1346.7,1185.7 1347.9,1185.8 1349.1,1185.8 1350.3,1185.8 1351.5,1185.8 1352.7,1185.9 1353.9,1185.9 1355.1,1185.9 1356.3,1185.9 1357.5,1185.9 1358.7,1186.0 1359.9,1186.0 1361.1,1186.0 1362.3,1186.0 1363.5,1186.0 1364.7,1186.0 1365.9,1186.1 1367.1,1186.1 1368.3,1186.1 1369.5,1186.1 1370.7,1186.1 1371.9,1186.1 1373.1,1186.1 1374.3,1186.2 1375.5,1186.2 1376.7,1186.2 1377.9,1186.2 1379.1,1186.2 1380.3,1186.2 1381.5,1186.2 1382.7,1186.2 1383.9,1186.2 1385.1,1186.3 1386.3,1186.3 1387.5,1186.3 1388.7,1186.3 1389.9,1186.3 1391.1,1186.3 1392.3,1186.3 1393.5,1186.3 1394.7,1186.3 1395.9,1186.3 1397.1,1186.3 1398.3,1186.3 1399.5,1186.3 1400.7,1186.3 1401.9,1186.3 1403.1,1186.3 1404.3,1186.3 1405.5,1186.4 1406.7,1186.4 1407.9,1186.4 1409.1,1186.4 1410.3,1186.4 1411.5,1186.4 1412.7,1186.4 1413.9,1186.4 1415.1,1186.4 1416.3,1186.4 1417.5,1186.4 1418.7,1186.4 1419.9,1186.4 1421.1,1186.4 1422.3,1186.4 1423.6,1186.4 1424.8,1186.4 1426.0,1186.4 1427.2,1186.4 1428.4,1186.4 1429.6,1186.4 1430.8,1186.4 1432.0,1186.4 1433.2,1186.4 1434.4,1186.4 1435.6,1186.4 1436.8,1186.4 1438.0,1186.4 1439.2,1186.4 1440.4,1186.4 1441.6,1186.4 1442.8,1186.4 1444.0,1186.4 1445.2,1186.3 1446.4,1186.3 1447.6,1186.3 1448.8,1186.3 1450.0,1186.3 1451.2,1186.3 1452.4,1186.3 1453.6,1186.3 1454.8,1186.3 1456.0,1186.3 1457.2,1186.3 1458.4,1186.3 1459.6,1186.3 1460.8,1186.3 1462.0,1186.3 1463.2,1186.3 1464.4,1186.3 1465.6,1186.3 1466.8,1186.3 1468.0,1186.3 1469.2,1186.3 1470.4,1186.3 1471.6,1186.3 1472.8,1186.3 1474.0,1186.3 1475.2,1186.3 1476.4,1186.3 1477.6,1186.3 1478.8,1186.3 1480.0,1186.3 1481.2,1186.3 1482.4,1186.3 1483.6,1186.3 1484.8,1186.3 1486.0,1186.3 1487.2,1186.3 1488.4,1186.3 1489.6,1186.3 1490.8,1186.3 1492.0,1186.3 1493.2,1186.3 1494.4,1186.3 1495.6,1186.3 1496.8,1186.3 1498.0,1186.3 1499.2,1186.3 1500.4,1186.3 1501.6,1186.3 1502.8,1186.3 1504.0,1186.3 1505.2,1186.3 1506.4,1186.3 1507.6,1186.3 1508.8,1186.3 1510.0,1186.3 1511.2,1186.3 1512.4,1186.3 1513.6,1186.3 1514.8,1186.3 1516.0,1186.3 1517.2,1186.3 1518.4,1186.3 1519.6,1186.3 1520.8,1186.3 1522.0,1186.3 1523.2,1186.3 1524.4,1186.3 1525.6,1186.3 1526.8,1186.3 1528.0,1186.3 1529.2,1186.3 1530.4,1186.3 1531.6,1186.3 1532.8,1186.3 1534.0,1186.3 1535.2,1186.3 1536.4,1186.3 1537.6,1186.3 1538.8,1186.3 1540.0,1186.3 1541.3,1186.3 1542.5,1186.3 1543.7,1186.3 1544.9,1186.3 1546.1,1186.3 1547.3,1186.3 1548.5,1186.3 1549.7,1186.3 1550.9,1186.3 1552.1,1186.3 1553.3,1186.3 1554.5,1186.3 1555.7,1186.3 1556.9,1186.3 1558.1,1186.3 1559.3,1186.3 1560.5,1186.3 1561.7,1186.3 1562.9,1186.3 1564.1,1186.3 1565.3,1186.3 1566.5,1186.3 1567.7,1186.3 1568.9,1186.3 1570.1,1186.3 1571.3,1186.3 1572.5,1186.3 1573.7,1186.3 1574.9,1186.3 1576.1,1186.3 1577.3,1186.3 1578.5,1186.3 1579.7,1186.3 1580.9,1186.3 1582.1,1186.3 1583.3,1186.3 1584.5,1186.3 1585.7,1186.3 1586.9,1186.3 1588.1,1186.3 1589.3,1186.3 1590.5,1186.3 1591.7,1186.3 1592.9,1186.3 1594.1,1186.3 1595.3,1186.3 1596.5,1186.3 1597.7,1186.3 1598.9,1186.3 1600.1,1186.3 1601.3,1186.3 1602.5,1186.3 1603.7,1186.3 1604.9,1186.3 1606.1,1186.3 1607.3,1186.3 1608.5,1186.3 1609.7,1186.3 1610.9,1186.3 1612.1,1186.3 1613.3,1186.3 1614.5,1186.3 1615.7,1186.3 1616.9,1186.3 1618.1,1186.3 1619.3,1186.3 1620.5,1186.3 1621.7,1186.3 1622.9,1186.3 1624.1,1186.3 1625.3,1186.3 1626.5,1186.3 1627.7,1186.3 1628.9,1186.3 1630.1,1186.3 1631.3,1186.3 1632.5,1186.3 1633.7,1186.3 1634.9,1186.3 1636.1,1186.3 1637.3,1186.3 1638.5,1186.3 1639.7,1186.3 1640.9,1186.3 1642.1,1186.3 1643.3,1186.3 1644.5,1186.3 1645.7,1186.3 1646.9,1186.3 1648.1,1186.3 1649.3,1186.3 1650.5,1186.3 1651.7,1186.3 1652.9,1186.3 1654.1,1186.3 1655.3,1186.3 1656.5,1186.3 1657.7,1186.3 1659.0,1186.3 1660.2,1186.3 1661.4,1186.3 1662.6,1186.3 1663.8,1186.3 1665.0,1186.3 1666.2,1186.3 1667.4,1186.3 1668.6,1186.3 1669.8,1186.3 1671.0,1186.3 1672.2,1186.4 1673.4,1186.4 1674.6,1186.4 1675.8,1186.4 1677.0,1186.4 1678.2,1186.4 1679.4,1186.4 1680.6,1186.4 1681.8,1186.4 1683.0,1186.4 1684.2,1186.4 1685.4,1186.4 1686.6,1186.4 1687.8,1186.4 1689.0,1186.4 1690.2,1186.4 1691.4,1186.4 1692.6,1186.4 1693.8,1186.4 1695.0,1186.4 1696.2,1186.4 1697.4,1186.4 1698.6,1186.4 1699.8,1186.4 1701.0,1186.4 1702.2,1186.4 1703.4,1186.4 1704.6,1186.4 1705.8,1186.4 1707.0,1186.4 1708.2,1186.4 1709.4,1186.4 1710.6,1186.4 1711.8,1186.4 1713.0,1186.4 1714.2,1186.4 1715.4,1186.4 1716.6,1186.4 1717.8,1186.4 1719.0,1186.4 1720.2,1186.4 1721.4,1186.4 1722.6,1186.4 1723.8,1186.4 1725.0,1186.4 1726.2,1186.4 1727.4,1186.4 1728.6,1186.4 1729.8,1186.4 1731.0,1186.4 1732.2,1186.4 1733.4,1186.4 1734.6,1186.4 1735.8,1186.4 1737.0,1186.4 1738.2,1186.4 1739.4,1186.4 1740.6,1186.4 1741.8,1186.4 1743.0,1186.4 1744.2,1186.4 1745.4,1186.4 1746.6,1186.4 1747.8,1186.4 1749.0,1186.4 1750.2,1186.4 1751.4,1186.4 1752.6,1186.4 1753.8,1186.4 1755.0,1186.4 1756.2,1186.4 1757.4,1186.4 1758.6,1186.4 1759.8,1186.5 1761.0,1186.5 1762.2,1186.5 1763.4,1186.5 1764.6,1186.5 1765.8,1186.5 1767.0,1186.5 1768.2,1186.5 1769.4,1186.5 1770.6,1186.5 1771.8,1186.5 1773.0,1186.5 1774.2,1186.5 1775.4,1186.5 1776.7,1186.5 1777.9,1186.5 1779.1,1186.5 1780.3,1186.5 1781.5,1186.5 1782.7,1186.5 1783.9,1186.5 1785.1,1186.5 1786.3,1186.5 1787.5,1186.5 1788.7,1186.5 1789.9,1186.5 1791.1,1186.5 1792.3,1186.5 1793.5,1186.5 1794.7,1186.5 1795.9,1186.5 1797.1,1186.5 1798.3,1186.5 1799.5,1186.5 1800.7,1186.5 1801.9,1186.5 1803.1,1186.5 1804.3,1186.5 1805.5,1186.5 1806.7,1186.5 1807.9,1186.5 1809.1,1186.5 1810.3,1186.5 1811.5,1186.5 1812.7,1186.5 1813.9,1186.5 1815.1,1186.5 1816.3,1186.5 1817.5,1186.5 1818.7,1186.5 1819.9,1186.5 1821.1,1186.5 1822.3,1186.5 1823.5,1186.5 1824.7,1186.5 1825.9,1186.5 1827.1,1186.5 1828.3,1186.5 1829.5,1186.5 1830.7,1186.5 1831.9,1186.5 1833.1,1186.5 1834.3,1186.5 1835.5,1186.5 1836.7,1186.5 1837.9,1186.5 1839.1,1186.5 1840.3,1186.5 1841.5,1186.5 1842.7,1186.5 1843.9,1186.5 1845.1,1186.5 1846.3,1186.5 1847.5,1186.5 1848.7,1186.5 1849.9,1186.5 1851.1,1186.5 1852.3,1186.5 1853.5,1186.5 1854.7,1186.5 1855.9,1186.5 1857.1,1186.5 1858.3,1186.5 1859.5,1186.5 1860.7,1186.5 1861.9,1186.5 1863.1,1186.5 1864.3,1186.5 1865.5,1186.5 1866.7,1186.5 1867.9,1186.5 1869.1,1186.5 1870.3,1186.5 1871.5,1186.5 1872.7,1186.5 1873.9,1186.5 1875.1,1186.5 1876.3,1186.5 1877.5,1186.5 1878.7,1186.5 1879.9,1186.5 1881.1,1186.5 1882.3,1186.5 1883.5,1186.5 1884.7,1186.5 1885.9,1186.5 1887.1,1186.5 1888.3,1186.4 1889.5,1186.4 1890.7,1186.4 1891.9,1186.4 1893.1,1186.4 1894.3,1186.4 1895.6,1186.4 1896.8,1186.4 1898.0,1186.4 1899.2,1186.4 1900.4,1186.4 1901.6,1186.4 1902.8,1186.4 1904.0,1186.5" fill="none" stroke="#000" stroke-width="2.1" stroke-linejoin="round" stroke-dasharray="7.2 6.2"/>
<path d="M1141.1,1304.0 1232.4,987.5 L1232.4,987.5 1232.7,986.4 1233.0,985.2 1233.3,984.1 1233.7,983.0 1234.2,981.9 1234.8,980.8 1235.5,979.8 1236.3,978.9 1237.2,978.2 1238.2,977.5 1239.3,977.0 1240.4,976.5 1241.6,976.1 1242.7,975.8 1243.9,975.6 1245.1,975.4 1246.3,975.2 1247.5,975.1 1248.7,975.0 1249.9,975.0 1251.1,974.9 1252.3,974.9 1253.5,974.9 1254.7,974.8 1255.9,974.8 1257.1,974.7 1258.3,974.6 1259.5,974.4 1260.7,974.2 1261.9,974.1 L1261.9,974.1 1899.5,861.6" fill="none" stroke="#000" stroke-width="2.1" stroke-linejoin="round" stroke-dasharray="9.3 4.9 2.3 5.1"/>
<line x1="1262.2" y1="748.5" x2="1262.2" y2="1314" stroke="#000" stroke-width="2.2" stroke-dasharray="2.6 5.5"/>
<text x="1229.9" y="769.7" font-size="27.4" text-anchor="start">Ar</text>
<text x="1267.7" y="770" font-size="27.4" text-anchor="start">CO</text>
<text x="1308.7" y="780.6" font-size="16" text-anchor="start">2</text>
<line x1="1551.1" y1="774.5" x2="1612.4" y2="774.5" stroke="#000" stroke-width="2"/>
<line x1="1551.1" y1="807.8" x2="1600.1" y2="807.8" stroke="#000" stroke-width="2" stroke-dasharray="7.2 6.2"/>
<text x="1619.5" y="783.7" font-size="27.28" text-anchor="start">Charcoal</text>
<text x="1619.5" y="817" font-size="27.15" text-anchor="start">Charcoal + Facemask</text>
</svg>
</body></html>
